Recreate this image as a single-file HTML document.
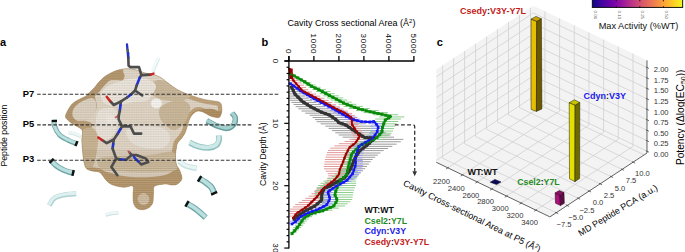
<!DOCTYPE html>
<html><head><meta charset="utf-8"><style>
html,body{margin:0;padding:0;background:#fff;width:685px;height:252px;overflow:hidden}
svg{display:block}
text{font-family:"Liberation Sans", sans-serif}
</style></head><body>
<svg width="685" height="252" viewBox="0 0 685 252">
<rect width="685" height="252" fill="#fff"/>
<g opacity="1.0"><path d="M158.80,58.10 C158.33,59.08 156.98,61.73 156.00,64.00 C155.02,66.27 153.42,70.42 152.90,71.70 " fill="none" stroke="#d8eaea" stroke-width="3.5" stroke-linecap="butt"/>
<path d="M158.80,58.10 C158.33,59.08 156.98,61.73 156.00,64.00 C155.02,66.27 153.42,70.42 152.90,71.70 " fill="none" stroke="#f4fafa" stroke-width="2.17" stroke-linecap="butt" transform="translate(-0.3,-0.5)"/>
</g>
<g opacity="1.0"><path d="M49.20,205.40 C49.83,204.42 51.50,201.00 53.00,199.50 C54.50,198.00 55.87,197.23 58.20,196.40 C60.53,195.57 64.00,194.93 67.00,194.50 C70.00,194.07 74.67,193.92 76.20,193.80 " fill="none" stroke="#add2d2" stroke-width="5" stroke-linecap="butt"/>
<path d="M49.20,205.40 C49.83,204.42 51.50,201.00 53.00,199.50 C54.50,198.00 55.87,197.23 58.20,196.40 C60.53,195.57 64.00,194.93 67.00,194.50 C70.00,194.07 74.67,193.92 76.20,193.80 " fill="none" stroke="#e0f0f0" stroke-width="3.10" stroke-linecap="butt" transform="translate(-0.3,-0.5)"/>
</g>
<g opacity="1.0"><path d="M105.70,215.00 C106.75,214.75 109.87,213.83 112.00,213.50 C114.13,213.17 117.42,213.08 118.50,213.00 " fill="none" stroke="#d0e4e4" stroke-width="3.5" stroke-linecap="butt"/>
<path d="M105.70,215.00 C106.75,214.75 109.87,213.83 112.00,213.50 C114.13,213.17 117.42,213.08 118.50,213.00 " fill="none" stroke="#eef6f6" stroke-width="2.17" stroke-linecap="butt" transform="translate(-0.3,-0.5)"/>
</g>
<g opacity="1.0"><path d="M179.00,161.00 C180.17,161.83 183.03,164.75 186.00,166.00 C188.97,167.25 195.00,168.08 196.80,168.50 " fill="none" stroke="#c6e0df" stroke-width="5.5" stroke-linecap="butt"/>
<path d="M179.00,161.00 C180.17,161.83 183.03,164.75 186.00,166.00 C188.97,167.25 195.00,168.08 196.80,168.50 " fill="none" stroke="#e9f5f4" stroke-width="3.41" stroke-linecap="butt" transform="translate(-0.3,-0.5)"/>
</g>
<g opacity="1.0"><path d="M68.60,132.50 C69.67,132.75 72.93,133.28 75.00,134.00 C77.07,134.72 80.00,136.33 81.00,136.80 " fill="none" stroke="#d6e8e8" stroke-width="3.5" stroke-linecap="butt"/>
<path d="M68.60,132.50 C69.67,132.75 72.93,133.28 75.00,134.00 C77.07,134.72 80.00,136.33 81.00,136.80 " fill="none" stroke="#eef7f7" stroke-width="2.17" stroke-linecap="butt" transform="translate(-0.3,-0.5)"/>
</g>
<path d="M65.50,117.00 C65.23,115.55 66.17,113.83 67.00,112.00 C67.83,110.17 69.25,107.67 70.50,106.00 C71.75,104.33 72.92,103.17 74.50,102.00 C76.08,100.83 78.08,100.00 80.00,99.00 C81.92,98.00 84.33,97.17 86.00,96.00 C87.67,94.83 88.58,93.42 90.00,92.00 C91.42,90.58 93.17,89.00 94.50,87.50 C95.83,86.00 96.58,84.58 98.00,83.00 C99.42,81.42 101.33,79.42 103.00,78.00 C104.67,76.58 106.17,75.58 108.00,74.50 C109.83,73.42 112.00,72.33 114.00,71.50 C116.00,70.67 117.67,69.97 120.00,69.50 C122.33,69.03 125.33,68.65 128.00,68.70 C130.67,68.75 133.33,69.13 136.00,69.80 C138.67,70.47 141.33,71.95 144.00,72.70 C146.67,73.45 149.28,73.55 152.00,74.30 C154.72,75.05 157.63,75.75 160.30,77.20 C162.97,78.65 164.98,80.83 168.00,83.00 C171.02,85.17 174.53,88.12 178.40,90.20 C182.27,92.28 186.93,93.97 191.20,95.50 C195.47,97.03 200.20,98.48 204.00,99.40 C207.80,100.32 211.50,100.57 214.00,101.00 C216.50,101.43 217.78,101.42 219.00,102.00 C220.22,102.58 220.83,103.00 221.30,104.50 C221.77,106.00 222.08,108.88 221.80,111.00 C221.52,113.12 220.90,116.20 219.60,117.20 C218.30,118.20 215.72,117.28 214.00,117.00 C212.28,116.72 210.97,116.25 209.30,115.50 C207.63,114.75 205.80,113.25 204.00,112.50 C202.20,111.75 200.17,110.92 198.50,111.00 C196.83,111.08 195.42,111.83 194.00,113.00 C192.58,114.17 191.08,115.92 190.00,118.00 C188.92,120.08 188.33,123.00 187.50,125.50 C186.67,128.00 186.08,130.75 185.00,133.00 C183.92,135.25 182.23,137.33 181.00,139.00 C179.77,140.67 178.37,141.50 177.60,143.00 C176.83,144.50 176.75,146.00 176.40,148.00 C176.05,150.00 175.50,152.27 175.50,155.00 C175.50,157.73 175.73,161.90 176.40,164.40 C177.07,166.90 178.58,167.63 179.50,170.00 C180.42,172.37 182.23,176.27 181.90,178.60 C181.57,180.93 179.15,182.92 177.50,184.00 C175.85,185.08 174.00,185.10 172.00,185.10 C170.00,185.10 168.40,183.82 165.50,184.00 C162.60,184.18 156.60,184.73 154.60,186.20 C152.60,187.67 153.87,189.88 153.50,192.80 C153.13,195.72 153.65,200.98 152.40,203.70 C151.15,206.42 148.37,208.20 146.00,209.10 C143.63,210.00 140.23,210.00 138.20,209.10 C136.17,208.20 134.67,206.05 133.80,203.70 C132.93,201.35 133.17,197.92 133.00,195.00 C132.83,192.08 134.30,187.48 132.80,186.20 C131.30,184.92 127.28,187.48 124.00,187.30 C120.72,187.12 116.02,186.20 113.10,185.10 C110.18,184.00 108.68,182.80 106.50,180.70 C104.32,178.60 102.42,174.12 100.00,172.50 C97.58,170.88 94.33,171.75 92.00,171.00 C89.67,170.25 87.40,169.83 86.00,168.00 C84.60,166.17 84.18,163.00 83.60,160.00 C83.02,157.00 82.80,153.33 82.50,150.00 C82.20,146.67 81.80,143.17 81.80,140.00 C81.80,136.83 82.97,133.08 82.50,131.00 C82.03,128.92 80.50,128.58 79.00,127.50 C77.50,126.42 75.23,125.63 73.50,124.50 C71.77,123.37 69.93,121.95 68.60,120.70 C67.27,119.45 65.77,118.45 65.50,117.00 Z" fill="#e3d9ca"/>
<defs><clipPath id="surfclip"><path d="M65.50,117.00 C65.23,115.55 66.17,113.83 67.00,112.00 C67.83,110.17 69.25,107.67 70.50,106.00 C71.75,104.33 72.92,103.17 74.50,102.00 C76.08,100.83 78.08,100.00 80.00,99.00 C81.92,98.00 84.33,97.17 86.00,96.00 C87.67,94.83 88.58,93.42 90.00,92.00 C91.42,90.58 93.17,89.00 94.50,87.50 C95.83,86.00 96.58,84.58 98.00,83.00 C99.42,81.42 101.33,79.42 103.00,78.00 C104.67,76.58 106.17,75.58 108.00,74.50 C109.83,73.42 112.00,72.33 114.00,71.50 C116.00,70.67 117.67,69.97 120.00,69.50 C122.33,69.03 125.33,68.65 128.00,68.70 C130.67,68.75 133.33,69.13 136.00,69.80 C138.67,70.47 141.33,71.95 144.00,72.70 C146.67,73.45 149.28,73.55 152.00,74.30 C154.72,75.05 157.63,75.75 160.30,77.20 C162.97,78.65 164.98,80.83 168.00,83.00 C171.02,85.17 174.53,88.12 178.40,90.20 C182.27,92.28 186.93,93.97 191.20,95.50 C195.47,97.03 200.20,98.48 204.00,99.40 C207.80,100.32 211.50,100.57 214.00,101.00 C216.50,101.43 217.78,101.42 219.00,102.00 C220.22,102.58 220.83,103.00 221.30,104.50 C221.77,106.00 222.08,108.88 221.80,111.00 C221.52,113.12 220.90,116.20 219.60,117.20 C218.30,118.20 215.72,117.28 214.00,117.00 C212.28,116.72 210.97,116.25 209.30,115.50 C207.63,114.75 205.80,113.25 204.00,112.50 C202.20,111.75 200.17,110.92 198.50,111.00 C196.83,111.08 195.42,111.83 194.00,113.00 C192.58,114.17 191.08,115.92 190.00,118.00 C188.92,120.08 188.33,123.00 187.50,125.50 C186.67,128.00 186.08,130.75 185.00,133.00 C183.92,135.25 182.23,137.33 181.00,139.00 C179.77,140.67 178.37,141.50 177.60,143.00 C176.83,144.50 176.75,146.00 176.40,148.00 C176.05,150.00 175.50,152.27 175.50,155.00 C175.50,157.73 175.73,161.90 176.40,164.40 C177.07,166.90 178.58,167.63 179.50,170.00 C180.42,172.37 182.23,176.27 181.90,178.60 C181.57,180.93 179.15,182.92 177.50,184.00 C175.85,185.08 174.00,185.10 172.00,185.10 C170.00,185.10 168.40,183.82 165.50,184.00 C162.60,184.18 156.60,184.73 154.60,186.20 C152.60,187.67 153.87,189.88 153.50,192.80 C153.13,195.72 153.65,200.98 152.40,203.70 C151.15,206.42 148.37,208.20 146.00,209.10 C143.63,210.00 140.23,210.00 138.20,209.10 C136.17,208.20 134.67,206.05 133.80,203.70 C132.93,201.35 133.17,197.92 133.00,195.00 C132.83,192.08 134.30,187.48 132.80,186.20 C131.30,184.92 127.28,187.48 124.00,187.30 C120.72,187.12 116.02,186.20 113.10,185.10 C110.18,184.00 108.68,182.80 106.50,180.70 C104.32,178.60 102.42,174.12 100.00,172.50 C97.58,170.88 94.33,171.75 92.00,171.00 C89.67,170.25 87.40,169.83 86.00,168.00 C84.60,166.17 84.18,163.00 83.60,160.00 C83.02,157.00 82.80,153.33 82.50,150.00 C82.20,146.67 81.80,143.17 81.80,140.00 C81.80,136.83 82.97,133.08 82.50,131.00 C82.03,128.92 80.50,128.58 79.00,127.50 C77.50,126.42 75.23,125.63 73.50,124.50 C71.77,123.37 69.93,121.95 68.60,120.70 C67.27,119.45 65.77,118.45 65.50,117.00 Z"/></clipPath></defs>
<g clip-path="url(#surfclip)">
<path d="M65.50,117.00 C65.23,115.55 66.17,113.83 67.00,112.00 C67.83,110.17 69.25,107.67 70.50,106.00 C71.75,104.33 72.92,103.17 74.50,102.00 C76.08,100.83 78.08,100.00 80.00,99.00 C81.92,98.00 84.33,97.17 86.00,96.00 C87.67,94.83 88.58,93.42 90.00,92.00 C91.42,90.58 93.17,89.00 94.50,87.50 C95.83,86.00 96.58,84.58 98.00,83.00 C99.42,81.42 101.33,79.42 103.00,78.00 C104.67,76.58 106.17,75.58 108.00,74.50 C109.83,73.42 112.00,72.33 114.00,71.50 C116.00,70.67 117.67,69.97 120.00,69.50 C122.33,69.03 125.33,68.65 128.00,68.70 C130.67,68.75 133.33,69.13 136.00,69.80 C138.67,70.47 141.33,71.95 144.00,72.70 C146.67,73.45 149.28,73.55 152.00,74.30 C154.72,75.05 157.63,75.75 160.30,77.20 C162.97,78.65 164.98,80.83 168.00,83.00 C171.02,85.17 174.53,88.12 178.40,90.20 C182.27,92.28 186.93,93.97 191.20,95.50 C195.47,97.03 200.20,98.48 204.00,99.40 C207.80,100.32 211.50,100.57 214.00,101.00 C216.50,101.43 217.78,101.42 219.00,102.00 C220.22,102.58 220.83,103.00 221.30,104.50 C221.77,106.00 222.08,108.88 221.80,111.00 C221.52,113.12 220.90,116.20 219.60,117.20 C218.30,118.20 215.72,117.28 214.00,117.00 C212.28,116.72 210.97,116.25 209.30,115.50 C207.63,114.75 205.80,113.25 204.00,112.50 C202.20,111.75 200.17,110.92 198.50,111.00 C196.83,111.08 195.42,111.83 194.00,113.00 C192.58,114.17 191.08,115.92 190.00,118.00 C188.92,120.08 188.33,123.00 187.50,125.50 C186.67,128.00 186.08,130.75 185.00,133.00 C183.92,135.25 182.23,137.33 181.00,139.00 C179.77,140.67 178.37,141.50 177.60,143.00 C176.83,144.50 176.75,146.00 176.40,148.00 C176.05,150.00 175.50,152.27 175.50,155.00 C175.50,157.73 175.73,161.90 176.40,164.40 C177.07,166.90 178.58,167.63 179.50,170.00 C180.42,172.37 182.23,176.27 181.90,178.60 C181.57,180.93 179.15,182.92 177.50,184.00 C175.85,185.08 174.00,185.10 172.00,185.10 C170.00,185.10 168.40,183.82 165.50,184.00 C162.60,184.18 156.60,184.73 154.60,186.20 C152.60,187.67 153.87,189.88 153.50,192.80 C153.13,195.72 153.65,200.98 152.40,203.70 C151.15,206.42 148.37,208.20 146.00,209.10 C143.63,210.00 140.23,210.00 138.20,209.10 C136.17,208.20 134.67,206.05 133.80,203.70 C132.93,201.35 133.17,197.92 133.00,195.00 C132.83,192.08 134.30,187.48 132.80,186.20 C131.30,184.92 127.28,187.48 124.00,187.30 C120.72,187.12 116.02,186.20 113.10,185.10 C110.18,184.00 108.68,182.80 106.50,180.70 C104.32,178.60 102.42,174.12 100.00,172.50 C97.58,170.88 94.33,171.75 92.00,171.00 C89.67,170.25 87.40,169.83 86.00,168.00 C84.60,166.17 84.18,163.00 83.60,160.00 C83.02,157.00 82.80,153.33 82.50,150.00 C82.20,146.67 81.80,143.17 81.80,140.00 C81.80,136.83 82.97,133.08 82.50,131.00 C82.03,128.92 80.50,128.58 79.00,127.50 C77.50,126.42 75.23,125.63 73.50,124.50 C71.77,123.37 69.93,121.95 68.60,120.70 C67.27,119.45 65.77,118.45 65.50,117.00 Z" fill="none" stroke="#c2a67f" stroke-width="8"/>
<path d="M65.50,117.00 C65.23,115.55 66.17,113.83 67.00,112.00 C67.83,110.17 69.25,107.67 70.50,106.00 C71.75,104.33 72.92,103.17 74.50,102.00 C76.08,100.83 78.08,100.00 80.00,99.00 C81.92,98.00 84.33,97.17 86.00,96.00 C87.67,94.83 88.58,93.42 90.00,92.00 C91.42,90.58 93.17,89.00 94.50,87.50 C95.83,86.00 96.58,84.58 98.00,83.00 C99.42,81.42 101.33,79.42 103.00,78.00 C104.67,76.58 106.17,75.58 108.00,74.50 C109.83,73.42 112.00,72.25 114.00,71.50 C116.00,70.75 118.25,69.83 120.00,70.00 C121.75,70.17 124.00,70.83 124.50,72.50 C125.00,74.17 124.25,78.75 123.00,80.00 C121.75,81.25 119.17,79.92 117.00,80.00 C114.83,80.08 112.17,79.50 110.00,80.50 C107.83,81.50 105.83,84.08 104.00,86.00 C102.17,87.92 100.50,90.33 99.00,92.00 C97.50,93.67 95.50,94.50 95.00,96.00 C94.50,97.50 95.67,99.33 96.00,101.00 C96.33,102.67 97.17,104.17 97.00,106.00 C96.83,107.83 96.17,110.33 95.00,112.00 C93.83,113.67 91.83,114.92 90.00,116.00 C88.17,117.08 85.17,116.83 84.00,118.50 C82.83,120.17 83.83,124.50 83.00,126.00 C82.17,127.50 80.58,127.75 79.00,127.50 C77.42,127.25 75.23,125.63 73.50,124.50 C71.77,123.37 69.93,121.95 68.60,120.70 C67.27,119.45 65.77,118.45 65.50,117.00 Z" fill="#b69a72"/>
<path d="M73.00,110.00 C73.83,107.83 76.00,105.67 78.00,104.00 C80.00,102.33 82.67,101.00 85.00,100.00 C87.33,99.00 90.17,97.67 92.00,98.00 C93.83,98.33 95.33,100.00 96.00,102.00 C96.67,104.00 96.67,107.50 96.00,110.00 C95.33,112.50 93.83,115.17 92.00,117.00 C90.17,118.83 87.33,120.33 85.00,121.00 C82.67,121.67 80.00,121.67 78.00,121.00 C76.00,120.33 73.83,118.83 73.00,117.00 C72.17,115.17 72.17,112.17 73.00,110.00 Z" fill="#e0d6c6"/>
<path d="M72.00,124.00 C72.00,122.67 75.67,121.50 78.00,121.00 C80.33,120.50 83.67,120.50 86.00,121.00 C88.33,121.50 91.33,122.33 92.00,124.00 C92.67,125.67 91.33,129.33 90.00,131.00 C88.67,132.67 86.00,134.33 84.00,134.00 C82.00,133.67 80.00,130.67 78.00,129.00 C76.00,127.33 72.00,125.33 72.00,124.00 Z" fill="#bda27c"/>
<path d="M188.50,121.50 C189.08,119.75 189.92,116.72 191.00,115.00 C192.08,113.28 193.17,112.12 195.00,111.20 C196.83,110.28 199.62,109.92 202.00,109.50 C204.38,109.08 207.13,108.70 209.30,108.70 C211.47,108.70 213.47,109.08 215.00,109.50 C216.53,109.92 217.37,110.95 218.50,111.20 C219.63,111.45 221.62,110.00 221.80,111.00 C221.98,112.00 220.90,116.20 219.60,117.20 C218.30,118.20 215.72,117.28 214.00,117.00 C212.28,116.72 210.97,116.25 209.30,115.50 C207.63,114.75 205.80,113.25 204.00,112.50 C202.20,111.75 200.17,110.92 198.50,111.00 C196.83,111.08 195.42,111.83 194.00,113.00 C192.58,114.17 191.08,115.92 190.00,118.00 C188.92,120.08 187.75,124.92 187.50,125.50 C187.25,126.08 187.92,123.25 188.50,121.50 Z" fill="#b09064"/>
<path d="M176.00,140.00 C177.33,137.33 180.17,134.67 182.00,132.00 C183.83,129.33 186.00,123.50 187.00,124.00 C188.00,124.50 188.83,132.00 188.00,135.00 C187.17,138.00 183.67,139.50 182.00,142.00 C180.33,144.50 178.67,146.17 178.00,150.00 C177.33,153.83 177.33,160.83 178.00,165.00 C178.67,169.17 182.00,172.17 182.00,175.00 C182.00,177.83 179.67,181.50 178.00,182.00 C176.33,182.50 172.83,181.67 172.00,178.00 C171.17,174.33 172.67,165.00 173.00,160.00 C173.33,155.00 173.50,151.33 174.00,148.00 C174.50,144.67 174.67,142.67 176.00,140.00 Z" fill="#c0a47c"/>
<path d="M160.00,108.00 C161.67,105.33 166.33,103.33 170.00,102.00 C173.67,100.67 178.67,99.33 182.00,100.00 C185.33,100.67 189.00,103.33 190.00,106.00 C191.00,108.67 189.33,112.67 188.00,116.00 C186.67,119.33 184.33,123.67 182.00,126.00 C179.67,128.33 176.67,130.00 174.00,130.00 C171.33,130.00 168.33,128.00 166.00,126.00 C163.67,124.00 161.00,121.00 160.00,118.00 C159.00,115.00 158.33,110.67 160.00,108.00 Z" fill="#cdbb9e"/>
<path d="M82.00,131.00 C83.67,128.17 89.33,127.17 92.00,128.00 C94.67,128.83 97.17,132.33 98.00,136.00 C98.83,139.67 97.67,145.33 97.00,150.00 C96.33,154.67 95.50,160.67 94.00,164.00 C92.50,167.33 89.67,170.67 88.00,170.00 C86.33,169.33 85.00,164.17 84.00,160.00 C83.00,155.83 82.33,149.83 82.00,145.00 C81.67,140.17 80.33,133.83 82.00,131.00 Z" fill="#cbb898"/>
<path d="M100.00,158.00 C103.67,156.50 111.67,156.50 120.00,156.00 C128.33,155.50 141.33,155.67 150.00,155.00 C158.67,154.33 167.67,151.17 172.00,152.00 C176.33,152.83 175.33,157.00 176.00,160.00 C176.67,163.00 178.67,168.00 176.00,170.00 C173.33,172.00 167.67,171.67 160.00,172.00 C152.33,172.33 139.17,172.33 130.00,172.00 C120.83,171.67 110.33,171.17 105.00,170.00 C99.67,168.83 98.83,167.00 98.00,165.00 C97.17,163.00 96.33,159.50 100.00,158.00 Z" fill="#d2c2a6"/>
<path d="M86.00,168.00 C86.00,167.50 89.00,167.50 92.00,168.00 C95.00,168.50 99.67,169.83 104.00,171.00 C108.33,172.17 113.33,174.00 118.00,175.00 C122.67,176.00 126.67,176.67 132.00,177.00 C137.33,177.33 144.50,177.33 150.00,177.00 C155.50,176.67 160.60,176.17 165.00,175.00 C169.40,173.83 173.98,170.50 176.40,170.00 C178.82,169.50 178.58,170.57 179.50,172.00 C180.42,173.43 182.23,176.60 181.90,178.60 C181.57,180.60 179.15,182.92 177.50,184.00 C175.85,185.08 174.00,185.10 172.00,185.10 C170.00,185.10 168.40,183.82 165.50,184.00 C162.60,184.18 156.60,184.73 154.60,186.20 C152.60,187.67 153.87,189.88 153.50,192.80 C153.13,195.72 153.65,200.98 152.40,203.70 C151.15,206.42 148.37,208.20 146.00,209.10 C143.63,210.00 140.23,210.00 138.20,209.10 C136.17,208.20 134.67,206.05 133.80,203.70 C132.93,201.35 133.17,197.92 133.00,195.00 C132.83,192.08 134.30,187.48 132.80,186.20 C131.30,184.92 127.28,187.48 124.00,187.30 C120.72,187.12 116.02,186.20 113.10,185.10 C110.18,184.00 108.68,182.80 106.50,180.70 C104.32,178.60 102.42,174.12 100.00,172.50 C97.58,170.88 94.33,171.75 92.00,171.00 C89.67,170.25 86.00,168.50 86.00,168.00 Z" fill="#bb9e74"/>
<path d="M138.50,196.00 C139.50,194.67 142.25,192.83 144.00,193.00 C145.75,193.17 148.33,195.33 149.00,197.00 C149.67,198.67 149.08,201.67 148.00,203.00 C146.92,204.33 144.17,205.33 142.50,205.00 C140.83,204.67 138.67,202.50 138.00,201.00 C137.33,199.50 137.50,197.33 138.50,196.00 Z" fill="#d8c9b0"/>
<path d="M124.00,69.00 C125.83,67.83 131.67,67.58 136.00,68.00 C140.33,68.42 146.00,70.33 150.00,71.50 C154.00,72.67 157.33,73.58 160.00,75.00 C162.67,76.42 166.33,79.00 166.00,80.00 C165.67,81.00 161.00,81.17 158.00,81.00 C155.00,80.83 152.00,79.67 148.00,79.00 C144.00,78.33 137.83,77.67 134.00,77.00 C130.17,76.33 126.67,76.33 125.00,75.00 C123.33,73.67 122.17,70.17 124.00,69.00 Z" fill="#e4dbce"/>
<path d="M150.00,84.00 C151.33,81.67 156.67,80.00 160.00,80.00 C163.33,80.00 166.33,82.33 170.00,84.00 C173.67,85.67 178.67,88.00 182.00,90.00 C185.33,92.00 189.67,94.33 190.00,96.00 C190.33,97.67 187.00,99.17 184.00,100.00 C181.00,100.83 176.00,101.17 172.00,101.00 C168.00,100.83 163.33,100.17 160.00,99.00 C156.67,97.83 153.67,96.50 152.00,94.00 C150.33,91.50 148.67,86.33 150.00,84.00 Z" fill="#cdbca0"/>
<path d="M101.00,93.00 C101.83,90.33 105.17,87.83 108.00,86.00 C110.83,84.17 114.67,83.17 118.00,82.00 C121.33,80.83 124.33,79.67 128.00,79.00 C131.67,78.33 136.33,77.83 140.00,78.00 C143.67,78.17 147.33,78.67 150.00,80.00 C152.67,81.33 155.67,83.50 156.00,86.00 C156.33,88.50 153.67,92.50 152.00,95.00 C150.33,97.50 149.00,99.83 146.00,101.00 C143.00,102.17 137.67,101.50 134.00,102.00 C130.33,102.50 127.67,103.33 124.00,104.00 C120.33,104.67 115.50,106.33 112.00,106.00 C108.50,105.67 104.83,104.17 103.00,102.00 C101.17,99.83 100.17,95.67 101.00,93.00 Z" fill="#efeae2"/>
<path d="M98.00,112.00 C99.67,109.33 103.00,108.33 106.00,108.00 C109.00,107.67 114.00,107.67 116.00,110.00 C118.00,112.33 118.33,118.00 118.00,122.00 C117.67,126.00 116.00,131.00 114.00,134.00 C112.00,137.00 108.67,139.67 106.00,140.00 C103.33,140.33 99.67,138.67 98.00,136.00 C96.33,133.33 96.00,128.00 96.00,124.00 C96.00,120.00 96.33,114.67 98.00,112.00 Z" fill="#ede8e0"/>
<path d="M126.00,131.00 C127.00,128.17 133.67,126.83 138.00,126.00 C142.33,125.17 147.33,125.33 152.00,126.00 C156.67,126.67 163.00,127.67 166.00,130.00 C169.00,132.33 170.67,137.00 170.00,140.00 C169.33,143.00 166.00,146.67 162.00,148.00 C158.00,149.33 151.00,148.83 146.00,148.00 C141.00,147.17 135.33,145.83 132.00,143.00 C128.67,140.17 125.00,133.83 126.00,131.00 Z" fill="#ece7df"/>
</g>
<ellipse cx="156.4" cy="103.5" rx="5.5" ry="5" fill="#fbfaf8"/>
<ellipse cx="109" cy="117" rx="4" ry="3" fill="#f1ece4"/>
<ellipse cx="111.5" cy="121" rx="5" ry="4" fill="#f3efe9"/>
<path d="M65.50,117.00 C65.23,115.55 66.17,113.83 67.00,112.00 C67.83,110.17 69.25,107.67 70.50,106.00 C71.75,104.33 72.92,103.17 74.50,102.00 C76.08,100.83 78.08,100.00 80.00,99.00 C81.92,98.00 84.33,97.17 86.00,96.00 C87.67,94.83 88.58,93.42 90.00,92.00 C91.42,90.58 93.17,89.00 94.50,87.50 C95.83,86.00 96.58,84.58 98.00,83.00 C99.42,81.42 101.33,79.42 103.00,78.00 C104.67,76.58 106.17,75.58 108.00,74.50 C109.83,73.42 112.00,72.33 114.00,71.50 C116.00,70.67 117.67,69.97 120.00,69.50 C122.33,69.03 125.33,68.65 128.00,68.70 C130.67,68.75 133.33,69.13 136.00,69.80 C138.67,70.47 141.33,71.95 144.00,72.70 C146.67,73.45 149.28,73.55 152.00,74.30 C154.72,75.05 157.63,75.75 160.30,77.20 C162.97,78.65 164.98,80.83 168.00,83.00 C171.02,85.17 174.53,88.12 178.40,90.20 C182.27,92.28 186.93,93.97 191.20,95.50 C195.47,97.03 200.20,98.48 204.00,99.40 C207.80,100.32 211.50,100.57 214.00,101.00 C216.50,101.43 217.78,101.42 219.00,102.00 C220.22,102.58 220.83,103.00 221.30,104.50 C221.77,106.00 222.08,108.88 221.80,111.00 C221.52,113.12 220.90,116.20 219.60,117.20 C218.30,118.20 215.72,117.28 214.00,117.00 C212.28,116.72 210.97,116.25 209.30,115.50 C207.63,114.75 205.80,113.25 204.00,112.50 C202.20,111.75 200.17,110.92 198.50,111.00 C196.83,111.08 195.42,111.83 194.00,113.00 C192.58,114.17 191.08,115.92 190.00,118.00 C188.92,120.08 188.33,123.00 187.50,125.50 C186.67,128.00 186.08,130.75 185.00,133.00 C183.92,135.25 182.23,137.33 181.00,139.00 C179.77,140.67 178.37,141.50 177.60,143.00 C176.83,144.50 176.75,146.00 176.40,148.00 C176.05,150.00 175.50,152.27 175.50,155.00 C175.50,157.73 175.73,161.90 176.40,164.40 C177.07,166.90 178.58,167.63 179.50,170.00 C180.42,172.37 182.23,176.27 181.90,178.60 C181.57,180.93 179.15,182.92 177.50,184.00 C175.85,185.08 174.00,185.10 172.00,185.10 C170.00,185.10 168.40,183.82 165.50,184.00 C162.60,184.18 156.60,184.73 154.60,186.20 C152.60,187.67 153.87,189.88 153.50,192.80 C153.13,195.72 153.65,200.98 152.40,203.70 C151.15,206.42 148.37,208.20 146.00,209.10 C143.63,210.00 140.23,210.00 138.20,209.10 C136.17,208.20 134.67,206.05 133.80,203.70 C132.93,201.35 133.17,197.92 133.00,195.00 C132.83,192.08 134.30,187.48 132.80,186.20 C131.30,184.92 127.28,187.48 124.00,187.30 C120.72,187.12 116.02,186.20 113.10,185.10 C110.18,184.00 108.68,182.80 106.50,180.70 C104.32,178.60 102.42,174.12 100.00,172.50 C97.58,170.88 94.33,171.75 92.00,171.00 C89.67,170.25 87.40,169.83 86.00,168.00 C84.60,166.17 84.18,163.00 83.60,160.00 C83.02,157.00 82.80,153.33 82.50,150.00 C82.20,146.67 81.80,143.17 81.80,140.00 C81.80,136.83 82.97,133.08 82.50,131.00 C82.03,128.92 80.50,128.58 79.00,127.50 C77.50,126.42 75.23,125.63 73.50,124.50 C71.77,123.37 69.93,121.95 68.60,120.70 C67.27,119.45 65.77,118.45 65.50,117.00 Z" fill="none" stroke="#a88b62" stroke-width="1.0" opacity="0.5"/>
<defs><pattern id="mesh" width="1.7" height="1.7" patternUnits="userSpaceOnUse"><rect width="1.7" height="0.6" fill="#6a5030" opacity="0.18"/><rect width="0.6" height="1.7" fill="#6a5030" opacity="0.07"/></pattern></defs>
<path d="M65.50,117.00 C65.23,115.55 66.17,113.83 67.00,112.00 C67.83,110.17 69.25,107.67 70.50,106.00 C71.75,104.33 72.92,103.17 74.50,102.00 C76.08,100.83 78.08,100.00 80.00,99.00 C81.92,98.00 84.33,97.17 86.00,96.00 C87.67,94.83 88.58,93.42 90.00,92.00 C91.42,90.58 93.17,89.00 94.50,87.50 C95.83,86.00 96.58,84.58 98.00,83.00 C99.42,81.42 101.33,79.42 103.00,78.00 C104.67,76.58 106.17,75.58 108.00,74.50 C109.83,73.42 112.00,72.33 114.00,71.50 C116.00,70.67 117.67,69.97 120.00,69.50 C122.33,69.03 125.33,68.65 128.00,68.70 C130.67,68.75 133.33,69.13 136.00,69.80 C138.67,70.47 141.33,71.95 144.00,72.70 C146.67,73.45 149.28,73.55 152.00,74.30 C154.72,75.05 157.63,75.75 160.30,77.20 C162.97,78.65 164.98,80.83 168.00,83.00 C171.02,85.17 174.53,88.12 178.40,90.20 C182.27,92.28 186.93,93.97 191.20,95.50 C195.47,97.03 200.20,98.48 204.00,99.40 C207.80,100.32 211.50,100.57 214.00,101.00 C216.50,101.43 217.78,101.42 219.00,102.00 C220.22,102.58 220.83,103.00 221.30,104.50 C221.77,106.00 222.08,108.88 221.80,111.00 C221.52,113.12 220.90,116.20 219.60,117.20 C218.30,118.20 215.72,117.28 214.00,117.00 C212.28,116.72 210.97,116.25 209.30,115.50 C207.63,114.75 205.80,113.25 204.00,112.50 C202.20,111.75 200.17,110.92 198.50,111.00 C196.83,111.08 195.42,111.83 194.00,113.00 C192.58,114.17 191.08,115.92 190.00,118.00 C188.92,120.08 188.33,123.00 187.50,125.50 C186.67,128.00 186.08,130.75 185.00,133.00 C183.92,135.25 182.23,137.33 181.00,139.00 C179.77,140.67 178.37,141.50 177.60,143.00 C176.83,144.50 176.75,146.00 176.40,148.00 C176.05,150.00 175.50,152.27 175.50,155.00 C175.50,157.73 175.73,161.90 176.40,164.40 C177.07,166.90 178.58,167.63 179.50,170.00 C180.42,172.37 182.23,176.27 181.90,178.60 C181.57,180.93 179.15,182.92 177.50,184.00 C175.85,185.08 174.00,185.10 172.00,185.10 C170.00,185.10 168.40,183.82 165.50,184.00 C162.60,184.18 156.60,184.73 154.60,186.20 C152.60,187.67 153.87,189.88 153.50,192.80 C153.13,195.72 153.65,200.98 152.40,203.70 C151.15,206.42 148.37,208.20 146.00,209.10 C143.63,210.00 140.23,210.00 138.20,209.10 C136.17,208.20 134.67,206.05 133.80,203.70 C132.93,201.35 133.17,197.92 133.00,195.00 C132.83,192.08 134.30,187.48 132.80,186.20 C131.30,184.92 127.28,187.48 124.00,187.30 C120.72,187.12 116.02,186.20 113.10,185.10 C110.18,184.00 108.68,182.80 106.50,180.70 C104.32,178.60 102.42,174.12 100.00,172.50 C97.58,170.88 94.33,171.75 92.00,171.00 C89.67,170.25 87.40,169.83 86.00,168.00 C84.60,166.17 84.18,163.00 83.60,160.00 C83.02,157.00 82.80,153.33 82.50,150.00 C82.20,146.67 81.80,143.17 81.80,140.00 C81.80,136.83 82.97,133.08 82.50,131.00 C82.03,128.92 80.50,128.58 79.00,127.50 C77.50,126.42 75.23,125.63 73.50,124.50 C71.77,123.37 69.93,121.95 68.60,120.70 C67.27,119.45 65.77,118.45 65.50,117.00 Z" fill="url(#mesh)"/>
<defs><pattern id="mesh2" width="2" height="2" patternUnits="userSpaceOnUse"><rect width="2" height="0.7" fill="#7a5a30" opacity="0.22"/></pattern><clipPath id="lowclip"><path d="M65.50,117.00 C65.23,115.55 66.17,113.83 67.00,112.00 C67.83,110.17 69.25,107.67 70.50,106.00 C71.75,104.33 72.92,103.17 74.50,102.00 C76.08,100.83 78.08,100.00 80.00,99.00 C81.92,98.00 84.33,97.17 86.00,96.00 C87.67,94.83 88.58,93.42 90.00,92.00 C91.42,90.58 93.17,89.00 94.50,87.50 C95.83,86.00 96.58,84.58 98.00,83.00 C99.42,81.42 101.33,79.42 103.00,78.00 C104.67,76.58 106.17,75.58 108.00,74.50 C109.83,73.42 112.00,72.33 114.00,71.50 C116.00,70.67 117.67,69.97 120.00,69.50 C122.33,69.03 125.33,68.65 128.00,68.70 C130.67,68.75 133.33,69.13 136.00,69.80 C138.67,70.47 141.33,71.95 144.00,72.70 C146.67,73.45 149.28,73.55 152.00,74.30 C154.72,75.05 157.63,75.75 160.30,77.20 C162.97,78.65 164.98,80.83 168.00,83.00 C171.02,85.17 174.53,88.12 178.40,90.20 C182.27,92.28 186.93,93.97 191.20,95.50 C195.47,97.03 200.20,98.48 204.00,99.40 C207.80,100.32 211.50,100.57 214.00,101.00 C216.50,101.43 217.78,101.42 219.00,102.00 C220.22,102.58 220.83,103.00 221.30,104.50 C221.77,106.00 222.08,108.88 221.80,111.00 C221.52,113.12 220.90,116.20 219.60,117.20 C218.30,118.20 215.72,117.28 214.00,117.00 C212.28,116.72 210.97,116.25 209.30,115.50 C207.63,114.75 205.80,113.25 204.00,112.50 C202.20,111.75 200.17,110.92 198.50,111.00 C196.83,111.08 195.42,111.83 194.00,113.00 C192.58,114.17 191.08,115.92 190.00,118.00 C188.92,120.08 188.33,123.00 187.50,125.50 C186.67,128.00 186.08,130.75 185.00,133.00 C183.92,135.25 182.23,137.33 181.00,139.00 C179.77,140.67 178.37,141.50 177.60,143.00 C176.83,144.50 176.75,146.00 176.40,148.00 C176.05,150.00 175.50,152.27 175.50,155.00 C175.50,157.73 175.73,161.90 176.40,164.40 C177.07,166.90 178.58,167.63 179.50,170.00 C180.42,172.37 182.23,176.27 181.90,178.60 C181.57,180.93 179.15,182.92 177.50,184.00 C175.85,185.08 174.00,185.10 172.00,185.10 C170.00,185.10 168.40,183.82 165.50,184.00 C162.60,184.18 156.60,184.73 154.60,186.20 C152.60,187.67 153.87,189.88 153.50,192.80 C153.13,195.72 153.65,200.98 152.40,203.70 C151.15,206.42 148.37,208.20 146.00,209.10 C143.63,210.00 140.23,210.00 138.20,209.10 C136.17,208.20 134.67,206.05 133.80,203.70 C132.93,201.35 133.17,197.92 133.00,195.00 C132.83,192.08 134.30,187.48 132.80,186.20 C131.30,184.92 127.28,187.48 124.00,187.30 C120.72,187.12 116.02,186.20 113.10,185.10 C110.18,184.00 108.68,182.80 106.50,180.70 C104.32,178.60 102.42,174.12 100.00,172.50 C97.58,170.88 94.33,171.75 92.00,171.00 C89.67,170.25 87.40,169.83 86.00,168.00 C84.60,166.17 84.18,163.00 83.60,160.00 C83.02,157.00 82.80,153.33 82.50,150.00 C82.20,146.67 81.80,143.17 81.80,140.00 C81.80,136.83 82.97,133.08 82.50,131.00 C82.03,128.92 80.50,128.58 79.00,127.50 C77.50,126.42 75.23,125.63 73.50,124.50 C71.77,123.37 69.93,121.95 68.60,120.70 C67.27,119.45 65.77,118.45 65.50,117.00 Z"/></clipPath></defs>
<rect x="80" y="150" width="105" height="63" fill="url(#mesh2)" clip-path="url(#lowclip)"/>
<g opacity="1.0"><path d="M54.30,119.80 C54.33,120.83 53.62,123.47 54.50,126.00 C55.38,128.53 57.25,132.60 59.60,135.00 C61.95,137.40 65.62,138.90 68.60,140.40 C71.58,141.90 76.02,143.40 77.50,144.00 " fill="none" stroke="#6ea6a6" stroke-width="5.0" stroke-linecap="butt"/>
<path d="M54.30,119.80 C54.33,120.83 53.62,123.47 54.50,126.00 C55.38,128.53 57.25,132.60 59.60,135.00 C61.95,137.40 65.62,138.90 68.60,140.40 C71.58,141.90 76.02,143.40 77.50,144.00 " fill="none" stroke="#b9e0de" stroke-width="3.10" stroke-linecap="butt" transform="translate(-0.3,-0.5)"/>
<line x1="54.38" y1="122.20" x2="54.30" y2="119.80" stroke="#111" stroke-width="5.3" stroke-linecap="butt"/>
<line x1="75.28" y1="143.10" x2="77.50" y2="144.00" stroke="#111" stroke-width="5.3" stroke-linecap="butt"/>
</g>
<g opacity="1.0"><path d="M50.80,160.00 C51.67,160.92 53.97,163.87 56.00,165.50 C58.03,167.13 60.83,168.72 63.00,169.80 C65.17,170.88 67.13,171.43 69.00,172.00 C70.87,172.57 73.33,173.00 74.20,173.20 " fill="none" stroke="#6ea6a6" stroke-width="5.5" stroke-linecap="butt"/>
<path d="M50.80,160.00 C51.67,160.92 53.97,163.87 56.00,165.50 C58.03,167.13 60.83,168.72 63.00,169.80 C65.17,170.88 67.13,171.43 69.00,172.00 C70.87,172.57 73.33,173.00 74.20,173.20 " fill="none" stroke="#b9e0de" stroke-width="3.41" stroke-linecap="butt" transform="translate(-0.3,-0.5)"/>
<line x1="52.45" y1="161.74" x2="50.80" y2="160.00" stroke="#111" stroke-width="5.8" stroke-linecap="butt"/>
<line x1="71.86" y1="172.66" x2="74.20" y2="173.20" stroke="#111" stroke-width="5.8" stroke-linecap="butt"/>
</g>
<g opacity="1.0"><path d="M189.60,142.50 C191.02,143.15 194.87,145.52 198.10,146.40 C201.33,147.28 205.90,148.03 209.00,147.80 C212.10,147.57 215.00,146.42 216.70,145.00 C218.40,143.58 218.88,140.90 219.20,139.30 C219.52,137.70 218.70,136.05 218.60,135.40 " fill="none" stroke="#92c2c0" stroke-width="5.8" stroke-linecap="butt"/>
<path d="M189.60,142.50 C191.02,143.15 194.87,145.52 198.10,146.40 C201.33,147.28 205.90,148.03 209.00,147.80 C212.10,147.57 215.00,146.42 216.70,145.00 C218.40,143.58 218.88,140.90 219.20,139.30 C219.52,137.70 218.70,136.05 218.60,135.40 " fill="none" stroke="#cde9e7" stroke-width="3.60" stroke-linecap="butt" transform="translate(-0.3,-0.5)"/>
</g>
<g opacity="1.0"><path d="M198.60,178.20 C199.67,178.83 202.85,180.45 205.00,182.00 C207.15,183.55 209.90,185.45 211.50,187.50 C213.10,189.55 214.08,193.17 214.60,194.30 " fill="none" stroke="#6ea6a6" stroke-width="6.2" stroke-linecap="butt"/>
<path d="M198.60,178.20 C199.67,178.83 202.85,180.45 205.00,182.00 C207.15,183.55 209.90,185.45 211.50,187.50 C213.10,189.55 214.08,193.17 214.60,194.30 " fill="none" stroke="#b9e0de" stroke-width="3.84" stroke-linecap="butt" transform="translate(-0.3,-0.5)"/>
<line x1="200.66" y1="179.43" x2="198.60" y2="178.20" stroke="#111" stroke-width="6.5" stroke-linecap="butt"/>
<line x1="213.60" y1="192.12" x2="214.60" y2="194.30" stroke="#111" stroke-width="6.5" stroke-linecap="butt"/>
</g>
<g opacity="1.0"><path d="M186.00,203.20 C187.50,204.08 191.72,206.12 195.00,208.50 C198.28,210.88 203.92,216.00 205.70,217.50 " fill="none" stroke="#6ea6a6" stroke-width="6.0" stroke-linecap="butt"/>
<path d="M186.00,203.20 C187.50,204.08 191.72,206.12 195.00,208.50 C198.28,210.88 203.92,216.00 205.70,217.50 " fill="none" stroke="#b9e0de" stroke-width="3.72" stroke-linecap="butt" transform="translate(-0.3,-0.5)"/>
<line x1="188.07" y1="204.42" x2="186.00" y2="203.20" stroke="#111" stroke-width="6.3" stroke-linecap="butt"/>
</g>
<g opacity="1.0"><path d="M206.80,120.70 C208.63,121.62 214.33,124.92 217.80,126.20 C221.27,127.48 224.88,128.77 227.60,128.40 C230.32,128.03 232.83,125.82 234.10,124.00 C235.37,122.18 235.55,119.32 235.20,117.50 C234.85,115.68 232.53,113.83 232.00,113.10 " fill="none" stroke="#679e9e" stroke-width="5.5" stroke-linecap="butt"/>
<path d="M206.80,120.70 C208.63,121.62 214.33,124.92 217.80,126.20 C221.27,127.48 224.88,128.77 227.60,128.40 C230.32,128.03 232.83,125.82 234.10,124.00 C235.37,122.18 235.55,119.32 235.20,117.50 C234.85,115.68 232.53,113.83 232.00,113.10 " fill="none" stroke="#a6d0ce" stroke-width="3.41" stroke-linecap="butt" transform="translate(-0.3,-0.5)"/>
</g>
<polyline points="127.00,44.50 127.50,50.00" fill="none" stroke="#2233cc" stroke-width="2.3" stroke-linejoin="round" stroke-linecap="round"/>
<polyline points="127.50,50.00 128.00,53.00" fill="none" stroke="#5c5c5c" stroke-width="2.6" stroke-linejoin="round" stroke-linecap="round"/>
<polyline points="128.00,53.00 128.30,58.00" fill="none" stroke="#2233cc" stroke-width="2.6" stroke-linejoin="round" stroke-linecap="round"/>
<polyline points="128.30,58.00 128.60,65.70 130.50,67.10 139.00,67.10 141.40,75.10 150.50,74.60" fill="none" stroke="#4d4d4d" stroke-width="2.6" stroke-linejoin="round" stroke-linecap="round"/>
<polyline points="150.50,74.60 153.50,73.60" fill="none" stroke="#cc2222" stroke-width="2.4" stroke-linejoin="round" stroke-linecap="round"/>
<polyline points="141.40,75.10 139.80,77.50" fill="none" stroke="#4d4d4d" stroke-width="2.6" stroke-linejoin="round" stroke-linecap="round"/>
<polyline points="139.80,77.50 136.70,85.40" fill="none" stroke="#2233cc" stroke-width="2.6" stroke-linejoin="round" stroke-linecap="round"/>
<polyline points="136.70,85.40 135.10,90.50 142.20,95.50" fill="none" stroke="#4d4d4d" stroke-width="2.6" stroke-linejoin="round" stroke-linecap="round"/>
<polyline points="135.10,90.50 131.00,94.50" fill="none" stroke="#4d4d4d" stroke-width="2.6" stroke-linejoin="round" stroke-linecap="round"/>
<polyline points="131.00,94.50 127.00,97.50" fill="none" stroke="#2233cc" stroke-width="2.6" stroke-linejoin="round" stroke-linecap="round"/>
<polyline points="127.00,97.50 121.00,101.40 113.80,105.00 110.00,101.00" fill="none" stroke="#4d4d4d" stroke-width="2.6" stroke-linejoin="round" stroke-linecap="round"/>
<polyline points="110.00,101.00 106.70,96.70" fill="none" stroke="#cc2222" stroke-width="2.4" stroke-linejoin="round" stroke-linecap="round"/>
<polyline points="121.00,101.40 120.50,105.00" fill="none" stroke="#4d4d4d" stroke-width="2.6" stroke-linejoin="round" stroke-linecap="round"/>
<polyline points="120.50,105.00 119.80,111.00" fill="none" stroke="#2233cc" stroke-width="2.6" stroke-linejoin="round" stroke-linecap="round"/>
<polyline points="119.80,111.00 118.80,115.50" fill="none" stroke="#4d4d4d" stroke-width="2.6" stroke-linejoin="round" stroke-linecap="round"/>
<polyline points="118.80,115.50 115.50,117.50" fill="none" stroke="#cc5555" stroke-width="1.6" stroke-linejoin="round" stroke-linecap="round"/>
<polyline points="118.80,115.50 118.60,119.30 122.10,126.40 130.50,126.40 134.00,133.60 141.20,133.60" fill="none" stroke="#4d4d4d" stroke-width="2.6" stroke-linejoin="round" stroke-linecap="round"/>
<polyline points="122.10,126.40 120.50,129.00" fill="none" stroke="#4d4d4d" stroke-width="2.6" stroke-linejoin="round" stroke-linecap="round"/>
<polyline points="120.50,129.00 117.50,134.00" fill="none" stroke="#2233cc" stroke-width="2.6" stroke-linejoin="round" stroke-linecap="round"/>
<polyline points="117.50,134.00 113.80,139.50 106.70,143.10 102.00,140.00" fill="none" stroke="#4d4d4d" stroke-width="2.6" stroke-linejoin="round" stroke-linecap="round"/>
<polyline points="102.00,140.00 98.30,137.50" fill="none" stroke="#cc2222" stroke-width="2.4" stroke-linejoin="round" stroke-linecap="round"/>
<polyline points="113.80,139.50 113.20,144.00" fill="none" stroke="#4d4d4d" stroke-width="2.6" stroke-linejoin="round" stroke-linecap="round"/>
<polyline points="113.20,144.00 112.60,148.50" fill="none" stroke="#2233cc" stroke-width="2.6" stroke-linejoin="round" stroke-linecap="round"/>
<polyline points="112.60,148.50 116.20,158.60 111.40,166.90 117.40,175.20" fill="none" stroke="#4d4d4d" stroke-width="2.6" stroke-linejoin="round" stroke-linecap="round"/>
<polyline points="116.20,158.60 121.00,159.50" fill="none" stroke="#4d4d4d" stroke-width="2.6" stroke-linejoin="round" stroke-linecap="round"/>
<polyline points="121.00,159.50 126.00,159.80" fill="none" stroke="#2233cc" stroke-width="2.6" stroke-linejoin="round" stroke-linecap="round"/>
<polyline points="126.00,159.80 131.70,155.00 136.40,155.00 146.00,158.60 148.30,162.10 141.20,164.50 138.50,161.50" fill="none" stroke="#4d4d4d" stroke-width="2.6" stroke-linejoin="round" stroke-linecap="round"/>
<polyline points="138.50,161.50 136.40,159.80 134.00,157.00" fill="none" stroke="#2233cc" stroke-width="2.6" stroke-linejoin="round" stroke-linecap="round"/>
<polyline points="131.70,155.00 129.50,152.50" fill="none" stroke="#4d4d4d" stroke-width="2.6" stroke-linejoin="round" stroke-linecap="round"/>
<polyline points="129.50,152.50 128.10,151.00" fill="none" stroke="#cc5555" stroke-width="1.6" stroke-linejoin="round" stroke-linecap="round"/>
<text x="0.00" y="45.60" font-size="11" font-weight="bold" fill="#000" text-anchor="start" >a</text>
<text x="7.30" y="135.60" font-size="8.7" font-weight="normal" fill="#000" text-anchor="middle" transform="rotate(-90 7.3 135.6)" >Peptide position</text>
<text x="22.80" y="97.20" font-size="9.4" font-weight="bold" fill="#000" text-anchor="start" >P7</text>
<line x1="37.10" y1="94.30" x2="278.60" y2="94.30" stroke="#333" stroke-width="1.1" stroke-dasharray="3.6 1.8"/>
<text x="22.80" y="127.40" font-size="9.4" font-weight="bold" fill="#000" text-anchor="start" >P5</text>
<line x1="37.10" y1="124.90" x2="252.70" y2="124.90" stroke="#333" stroke-width="1.1" stroke-dasharray="3.6 1.8"/>
<text x="22.80" y="161.70" font-size="9.4" font-weight="bold" fill="#000" text-anchor="start" >P3</text>
<line x1="37.10" y1="160.30" x2="252.70" y2="160.30" stroke="#333" stroke-width="1.1" stroke-dasharray="3.6 1.8"/>
<text x="261.60" y="45.60" font-size="11" font-weight="bold" fill="#000" text-anchor="start" >b</text>
<text x="351.50" y="26.00" font-size="9" font-weight="normal" fill="#000" text-anchor="middle" >Cavity Cross sectional Area (Å<tspan font-size="6" dy="-3">2</tspan><tspan dy="3">)</tspan></text>
<text x="286.30" y="54.20" font-size="8" font-weight="normal" fill="#000" text-anchor="end" transform="rotate(90 286.29999999999995 54.2)" fill="#111" letter-spacing="0.7">0</text>
<text x="311.30" y="54.20" font-size="8" font-weight="normal" fill="#000" text-anchor="end" transform="rotate(90 311.29999999999995 54.2)" fill="#111" letter-spacing="0.7">1000</text>
<text x="336.30" y="54.20" font-size="8" font-weight="normal" fill="#000" text-anchor="end" transform="rotate(90 336.29999999999995 54.2)" fill="#111" letter-spacing="0.7">2000</text>
<text x="361.30" y="54.20" font-size="8" font-weight="normal" fill="#000" text-anchor="end" transform="rotate(90 361.29999999999995 54.2)" fill="#111" letter-spacing="0.7">3000</text>
<text x="386.30" y="54.20" font-size="8" font-weight="normal" fill="#000" text-anchor="end" transform="rotate(90 386.29999999999995 54.2)" fill="#111" letter-spacing="0.7">4000</text>
<text x="411.30" y="54.20" font-size="8" font-weight="normal" fill="#000" text-anchor="end" transform="rotate(90 411.29999999999995 54.2)" fill="#111" letter-spacing="0.7">5000</text>
<text x="273.00" y="61.20" font-size="8" font-weight="normal" fill="#000" text-anchor="middle" transform="rotate(90 273.0 61.2)" fill="#111" letter-spacing="0.45">0</text>
<text x="273.00" y="123.55" font-size="8" font-weight="normal" fill="#000" text-anchor="middle" transform="rotate(90 273.0 123.55)" fill="#111" letter-spacing="0.45">10</text>
<text x="273.00" y="185.90" font-size="8" font-weight="normal" fill="#000" text-anchor="middle" transform="rotate(90 273.0 185.89999999999998)" fill="#111" letter-spacing="0.45">20</text>
<text x="273.00" y="248.25" font-size="8" font-weight="normal" fill="#000" text-anchor="middle" transform="rotate(90 273.0 248.25)" fill="#111" letter-spacing="0.45">30</text>
<text x="265.90" y="154.20" font-size="8.7" font-weight="normal" fill="#000" text-anchor="middle" transform="rotate(-90 265.9 154.2)" >Cavity Depth (Å)</text>
<line x1="288.90" y1="87.10" x2="294.86" y2="87.10" stroke="#9c9c9c" stroke-width="1.0" />
<line x1="288.90" y1="89.35" x2="297.30" y2="89.35" stroke="#9c9c9c" stroke-width="1.0" />
<line x1="288.90" y1="91.60" x2="299.75" y2="91.60" stroke="#9c9c9c" stroke-width="1.0" />
<line x1="288.90" y1="93.85" x2="302.19" y2="93.85" stroke="#9c9c9c" stroke-width="1.0" />
<line x1="288.90" y1="96.05" x2="305.51" y2="96.05" stroke="#9c9c9c" stroke-width="1.0" />
<line x1="289.12" y1="98.16" x2="308.91" y2="98.16" stroke="#9c9c9c" stroke-width="1.0" />
<line x1="289.99" y1="100.27" x2="312.31" y2="100.27" stroke="#9c9c9c" stroke-width="1.0" />
<line x1="291.45" y1="102.41" x2="316.34" y2="102.41" stroke="#9c9c9c" stroke-width="1.0" />
<line x1="293.55" y1="104.54" x2="321.00" y2="104.54" stroke="#9c9c9c" stroke-width="1.0" />
<line x1="295.65" y1="106.68" x2="325.33" y2="106.68" stroke="#9c9c9c" stroke-width="1.0" />
<line x1="298.35" y1="108.80" x2="330.14" y2="108.80" stroke="#9c9c9c" stroke-width="1.0" />
<line x1="301.50" y1="111.02" x2="335.51" y2="111.02" stroke="#9c9c9c" stroke-width="1.0" />
<line x1="305.27" y1="113.16" x2="341.43" y2="113.16" stroke="#9c9c9c" stroke-width="1.0" />
<line x1="309.73" y1="115.26" x2="347.94" y2="115.26" stroke="#9c9c9c" stroke-width="1.0" />
<line x1="312.56" y1="117.54" x2="352.60" y2="117.54" stroke="#9c9c9c" stroke-width="1.0" />
<line x1="314.98" y1="119.60" x2="356.65" y2="119.60" stroke="#9c9c9c" stroke-width="1.0" />
<line x1="316.67" y1="121.72" x2="360.05" y2="121.72" stroke="#9c9c9c" stroke-width="1.0" />
<line x1="320.63" y1="123.84" x2="365.70" y2="123.84" stroke="#9c9c9c" stroke-width="1.0" />
<line x1="325.32" y1="126.15" x2="372.01" y2="126.15" stroke="#9c9c9c" stroke-width="1.0" />
<line x1="328.64" y1="128.38" x2="376.67" y2="128.38" stroke="#9c9c9c" stroke-width="1.0" />
<line x1="331.96" y1="130.61" x2="381.33" y2="130.61" stroke="#9c9c9c" stroke-width="1.0" />
<line x1="335.31" y1="132.80" x2="385.99" y2="132.80" stroke="#9c9c9c" stroke-width="1.0" />
<line x1="338.67" y1="134.97" x2="390.65" y2="134.97" stroke="#9c9c9c" stroke-width="1.0" />
<line x1="342.64" y1="137.15" x2="394.02" y2="137.15" stroke="#9c9c9c" stroke-width="1.0" />
<line x1="352.67" y1="139.39" x2="403.41" y2="139.39" stroke="#9c9c9c" stroke-width="1.0" />
<line x1="350.79" y1="141.77" x2="400.85" y2="141.77" stroke="#9c9c9c" stroke-width="1.0" />
<line x1="349.91" y1="144.16" x2="396.67" y2="144.16" stroke="#9c9c9c" stroke-width="1.0" />
<line x1="348.85" y1="146.36" x2="392.30" y2="146.36" stroke="#9c9c9c" stroke-width="1.0" />
<line x1="347.65" y1="148.48" x2="387.93" y2="148.48" stroke="#9c9c9c" stroke-width="1.0" />
<line x1="346.24" y1="150.60" x2="383.64" y2="150.60" stroke="#9c9c9c" stroke-width="1.0" />
<line x1="345.47" y1="153.01" x2="380.46" y2="153.01" stroke="#9c9c9c" stroke-width="1.0" />
<line x1="344.98" y1="155.13" x2="377.85" y2="155.13" stroke="#9c9c9c" stroke-width="1.0" />
<line x1="344.48" y1="157.24" x2="375.25" y2="157.24" stroke="#9c9c9c" stroke-width="1.0" />
<line x1="344.12" y1="159.41" x2="372.72" y2="159.41" stroke="#9c9c9c" stroke-width="1.0" />
<line x1="343.68" y1="161.73" x2="370.75" y2="161.73" stroke="#9c9c9c" stroke-width="1.0" />
<line x1="343.07" y1="164.06" x2="368.90" y2="164.06" stroke="#9c9c9c" stroke-width="1.0" />
<line x1="342.46" y1="166.39" x2="367.06" y2="166.39" stroke="#9c9c9c" stroke-width="1.0" />
<line x1="341.85" y1="168.71" x2="365.21" y2="168.71" stroke="#9c9c9c" stroke-width="1.0" />
<line x1="340.74" y1="170.79" x2="362.99" y2="170.79" stroke="#9c9c9c" stroke-width="1.0" />
<line x1="339.63" y1="172.87" x2="360.77" y2="172.87" stroke="#9c9c9c" stroke-width="1.0" />
<line x1="338.53" y1="174.95" x2="358.55" y2="174.95" stroke="#9c9c9c" stroke-width="1.0" />
<line x1="337.14" y1="177.03" x2="356.87" y2="177.03" stroke="#9c9c9c" stroke-width="1.0" />
<line x1="333.90" y1="179.24" x2="353.33" y2="179.24" stroke="#9c9c9c" stroke-width="1.0" />
<line x1="329.95" y1="181.41" x2="349.10" y2="181.41" stroke="#9c9c9c" stroke-width="1.0" />
<line x1="326.04" y1="183.63" x2="344.89" y2="183.63" stroke="#9c9c9c" stroke-width="1.0" />
<line x1="322.16" y1="185.91" x2="340.70" y2="185.91" stroke="#9c9c9c" stroke-width="1.0" />
<line x1="316.58" y1="188.11" x2="334.83" y2="188.11" stroke="#9c9c9c" stroke-width="1.0" />
<line x1="315.26" y1="190.61" x2="333.01" y2="190.61" stroke="#9c9c9c" stroke-width="1.0" />
<line x1="314.64" y1="192.93" x2="331.47" y2="192.93" stroke="#9c9c9c" stroke-width="1.0" />
<line x1="314.41" y1="195.33" x2="330.28" y2="195.33" stroke="#9c9c9c" stroke-width="1.0" />
<line x1="314.74" y1="197.83" x2="329.61" y2="197.83" stroke="#9c9c9c" stroke-width="1.0" />
<line x1="314.97" y1="200.28" x2="328.86" y2="200.28" stroke="#9c9c9c" stroke-width="1.0" />
<line x1="312.60" y1="202.54" x2="325.58" y2="202.54" stroke="#9c9c9c" stroke-width="1.0" />
<line x1="310.23" y1="204.80" x2="322.31" y2="204.80" stroke="#9c9c9c" stroke-width="1.0" />
<line x1="307.36" y1="207.02" x2="318.55" y2="207.02" stroke="#9c9c9c" stroke-width="1.0" />
<line x1="303.34" y1="209.26" x2="313.63" y2="209.26" stroke="#9c9c9c" stroke-width="1.0" />
<line x1="299.76" y1="211.33" x2="309.23" y2="211.33" stroke="#9c9c9c" stroke-width="1.0" />
<line x1="296.87" y1="213.54" x2="305.45" y2="213.54" stroke="#9c9c9c" stroke-width="1.0" />
<line x1="294.05" y1="215.76" x2="301.62" y2="215.76" stroke="#9c9c9c" stroke-width="1.0" />
<line x1="292.54" y1="217.89" x2="298.89" y2="217.89" stroke="#9c9c9c" stroke-width="1.0" />
<line x1="288.90" y1="69.00" x2="290.50" y2="69.00" stroke="#e29a9a" stroke-width="1.0" />
<line x1="288.90" y1="71.45" x2="291.97" y2="71.45" stroke="#e29a9a" stroke-width="1.0" />
<line x1="288.90" y1="73.90" x2="293.43" y2="73.90" stroke="#e29a9a" stroke-width="1.0" />
<line x1="288.90" y1="76.31" x2="294.97" y2="76.31" stroke="#e29a9a" stroke-width="1.0" />
<line x1="289.07" y1="78.55" x2="296.95" y2="78.55" stroke="#e29a9a" stroke-width="1.0" />
<line x1="289.89" y1="80.67" x2="299.07" y2="80.67" stroke="#e29a9a" stroke-width="1.0" />
<line x1="291.50" y1="82.94" x2="301.66" y2="82.94" stroke="#e29a9a" stroke-width="1.0" />
<line x1="293.35" y1="85.20" x2="303.88" y2="85.20" stroke="#e29a9a" stroke-width="1.0" />
<line x1="295.19" y1="87.47" x2="306.10" y2="87.47" stroke="#e29a9a" stroke-width="1.0" />
<line x1="297.03" y1="89.74" x2="308.32" y2="89.74" stroke="#e29a9a" stroke-width="1.0" />
<line x1="300.16" y1="91.97" x2="311.83" y2="91.97" stroke="#e29a9a" stroke-width="1.0" />
<line x1="304.04" y1="94.07" x2="316.05" y2="94.07" stroke="#e29a9a" stroke-width="1.0" />
<line x1="307.91" y1="96.16" x2="320.27" y2="96.16" stroke="#e29a9a" stroke-width="1.0" />
<line x1="311.78" y1="98.26" x2="324.49" y2="98.26" stroke="#e29a9a" stroke-width="1.0" />
<line x1="315.67" y1="100.37" x2="328.63" y2="100.37" stroke="#e29a9a" stroke-width="1.0" />
<line x1="319.61" y1="102.54" x2="332.36" y2="102.54" stroke="#e29a9a" stroke-width="1.0" />
<line x1="323.56" y1="104.72" x2="336.09" y2="104.72" stroke="#e29a9a" stroke-width="1.0" />
<line x1="327.51" y1="106.89" x2="339.82" y2="106.89" stroke="#e29a9a" stroke-width="1.0" />
<line x1="331.48" y1="109.01" x2="343.58" y2="109.01" stroke="#e29a9a" stroke-width="1.0" />
<line x1="336.02" y1="111.14" x2="347.90" y2="111.14" stroke="#e29a9a" stroke-width="1.0" />
<line x1="340.49" y1="113.36" x2="352.16" y2="113.36" stroke="#e29a9a" stroke-width="1.0" />
<line x1="343.33" y1="115.41" x2="354.79" y2="115.41" stroke="#e29a9a" stroke-width="1.0" />
<line x1="346.17" y1="117.47" x2="357.42" y2="117.47" stroke="#e29a9a" stroke-width="1.0" />
<line x1="346.90" y1="119.60" x2="357.94" y2="119.60" stroke="#e29a9a" stroke-width="1.0" />
<line x1="346.78" y1="122.11" x2="357.90" y2="122.11" stroke="#e29a9a" stroke-width="1.0" />
<line x1="346.87" y1="124.54" x2="358.12" y2="124.54" stroke="#e29a9a" stroke-width="1.0" />
<line x1="348.09" y1="126.66" x2="359.46" y2="126.66" stroke="#e29a9a" stroke-width="1.0" />
<line x1="349.32" y1="128.77" x2="360.81" y2="128.77" stroke="#e29a9a" stroke-width="1.0" />
<line x1="350.51" y1="130.90" x2="362.12" y2="130.90" stroke="#e29a9a" stroke-width="1.0" />
<line x1="351.68" y1="133.05" x2="363.41" y2="133.05" stroke="#e29a9a" stroke-width="1.0" />
<line x1="352.85" y1="135.19" x2="364.70" y2="135.19" stroke="#e29a9a" stroke-width="1.0" />
<line x1="353.22" y1="137.32" x2="365.18" y2="137.32" stroke="#e29a9a" stroke-width="1.0" />
<line x1="349.46" y1="139.39" x2="363.78" y2="139.39" stroke="#e29a9a" stroke-width="1.0" />
<line x1="344.60" y1="141.46" x2="362.37" y2="141.46" stroke="#e29a9a" stroke-width="1.0" />
<line x1="338.92" y1="143.69" x2="360.40" y2="143.69" stroke="#e29a9a" stroke-width="1.0" />
<line x1="334.41" y1="145.86" x2="357.65" y2="145.86" stroke="#e29a9a" stroke-width="1.0" />
<line x1="330.27" y1="148.14" x2="355.03" y2="148.14" stroke="#e29a9a" stroke-width="1.0" />
<line x1="327.95" y1="150.38" x2="353.91" y2="150.38" stroke="#e29a9a" stroke-width="1.0" />
<line x1="327.05" y1="152.62" x2="352.79" y2="152.62" stroke="#e29a9a" stroke-width="1.0" />
<line x1="326.16" y1="154.86" x2="351.68" y2="154.86" stroke="#e29a9a" stroke-width="1.0" />
<line x1="325.52" y1="157.20" x2="350.80" y2="157.20" stroke="#e29a9a" stroke-width="1.0" />
<line x1="324.87" y1="159.55" x2="349.92" y2="159.55" stroke="#e29a9a" stroke-width="1.0" />
<line x1="324.51" y1="161.89" x2="349.04" y2="161.89" stroke="#e29a9a" stroke-width="1.0" />
<line x1="324.16" y1="164.21" x2="348.11" y2="164.21" stroke="#e29a9a" stroke-width="1.0" />
<line x1="323.77" y1="166.52" x2="347.14" y2="166.52" stroke="#e29a9a" stroke-width="1.0" />
<line x1="323.99" y1="168.83" x2="346.17" y2="168.83" stroke="#e29a9a" stroke-width="1.0" />
<line x1="325.72" y1="171.23" x2="345.49" y2="171.23" stroke="#e29a9a" stroke-width="1.0" />
<line x1="327.69" y1="173.68" x2="345.00" y2="173.68" stroke="#e29a9a" stroke-width="1.0" />
<line x1="328.26" y1="175.82" x2="343.77" y2="175.82" stroke="#e29a9a" stroke-width="1.0" />
<line x1="327.47" y1="178.11" x2="341.60" y2="178.11" stroke="#e29a9a" stroke-width="1.0" />
<line x1="326.67" y1="180.40" x2="339.43" y2="180.40" stroke="#e29a9a" stroke-width="1.0" />
<line x1="324.97" y1="182.54" x2="336.44" y2="182.54" stroke="#e29a9a" stroke-width="1.0" />
<line x1="323.21" y1="184.64" x2="333.43" y2="184.64" stroke="#e29a9a" stroke-width="1.0" />
<line x1="320.12" y1="186.85" x2="330.68" y2="186.85" stroke="#e29a9a" stroke-width="1.0" />
<line x1="316.75" y1="189.10" x2="327.98" y2="189.10" stroke="#e29a9a" stroke-width="1.0" />
<line x1="314.07" y1="191.29" x2="325.96" y2="191.29" stroke="#e29a9a" stroke-width="1.0" />
<line x1="311.57" y1="193.71" x2="324.19" y2="193.71" stroke="#e29a9a" stroke-width="1.0" />
<line x1="308.73" y1="196.14" x2="322.53" y2="196.14" stroke="#e29a9a" stroke-width="1.0" />
<line x1="305.37" y1="198.32" x2="320.69" y2="198.32" stroke="#e29a9a" stroke-width="1.0" />
<line x1="301.97" y1="200.43" x2="318.77" y2="200.43" stroke="#e29a9a" stroke-width="1.0" />
<line x1="298.56" y1="202.55" x2="316.85" y2="202.55" stroke="#e29a9a" stroke-width="1.0" />
<line x1="295.16" y1="204.66" x2="314.92" y2="204.66" stroke="#e29a9a" stroke-width="1.0" />
<line x1="292.85" y1="206.93" x2="312.03" y2="206.93" stroke="#e29a9a" stroke-width="1.0" />
<line x1="290.15" y1="209.14" x2="308.37" y2="209.14" stroke="#e29a9a" stroke-width="1.0" />
<line x1="288.90" y1="211.36" x2="304.72" y2="211.36" stroke="#e29a9a" stroke-width="1.0" />
<line x1="288.90" y1="213.69" x2="300.98" y2="213.69" stroke="#e29a9a" stroke-width="1.0" />
<line x1="288.90" y1="216.10" x2="298.58" y2="216.10" stroke="#e29a9a" stroke-width="1.0" />
<line x1="289.80" y1="73.90" x2="291.80" y2="73.90" stroke="#8fcf8f" stroke-width="1.0" />
<line x1="293.03" y1="76.14" x2="296.64" y2="76.14" stroke="#8fcf8f" stroke-width="1.0" />
<line x1="296.25" y1="78.37" x2="301.53" y2="78.37" stroke="#8fcf8f" stroke-width="1.0" />
<line x1="299.47" y1="80.60" x2="306.41" y2="80.60" stroke="#8fcf8f" stroke-width="1.0" />
<line x1="302.62" y1="82.90" x2="311.29" y2="82.90" stroke="#8fcf8f" stroke-width="1.0" />
<line x1="305.31" y1="85.06" x2="315.60" y2="85.06" stroke="#8fcf8f" stroke-width="1.0" />
<line x1="308.51" y1="87.29" x2="320.48" y2="87.29" stroke="#8fcf8f" stroke-width="1.0" />
<line x1="312.36" y1="89.44" x2="325.93" y2="89.44" stroke="#8fcf8f" stroke-width="1.0" />
<line x1="315.98" y1="91.50" x2="330.38" y2="91.50" stroke="#8fcf8f" stroke-width="1.0" />
<line x1="319.63" y1="93.68" x2="334.61" y2="93.68" stroke="#8fcf8f" stroke-width="1.0" />
<line x1="323.29" y1="95.83" x2="338.85" y2="95.83" stroke="#8fcf8f" stroke-width="1.0" />
<line x1="326.99" y1="97.94" x2="343.11" y2="97.94" stroke="#8fcf8f" stroke-width="1.0" />
<line x1="330.69" y1="100.05" x2="347.37" y2="100.05" stroke="#8fcf8f" stroke-width="1.0" />
<line x1="334.38" y1="102.16" x2="351.63" y2="102.16" stroke="#8fcf8f" stroke-width="1.0" />
<line x1="338.60" y1="104.32" x2="356.41" y2="104.32" stroke="#8fcf8f" stroke-width="1.0" />
<line x1="343.73" y1="106.40" x2="362.94" y2="106.40" stroke="#8fcf8f" stroke-width="1.0" />
<line x1="348.77" y1="108.49" x2="369.76" y2="108.49" stroke="#8fcf8f" stroke-width="1.0" />
<line x1="355.91" y1="110.55" x2="378.67" y2="110.55" stroke="#8fcf8f" stroke-width="1.0" />
<line x1="363.59" y1="112.62" x2="387.74" y2="112.62" stroke="#8fcf8f" stroke-width="1.0" />
<line x1="373.34" y1="114.76" x2="398.02" y2="114.76" stroke="#8fcf8f" stroke-width="1.0" />
<line x1="379.08" y1="116.93" x2="404.31" y2="116.93" stroke="#8fcf8f" stroke-width="1.0" />
<line x1="375.14" y1="119.02" x2="400.90" y2="119.02" stroke="#8fcf8f" stroke-width="1.0" />
<line x1="372.69" y1="121.51" x2="398.29" y2="121.51" stroke="#8fcf8f" stroke-width="1.0" />
<line x1="371.75" y1="123.83" x2="396.73" y2="123.83" stroke="#8fcf8f" stroke-width="1.0" />
<line x1="370.81" y1="126.14" x2="395.17" y2="126.14" stroke="#8fcf8f" stroke-width="1.0" />
<line x1="370.29" y1="128.57" x2="394.01" y2="128.57" stroke="#8fcf8f" stroke-width="1.0" />
<line x1="369.98" y1="131.05" x2="393.03" y2="131.05" stroke="#8fcf8f" stroke-width="1.0" />
<line x1="369.06" y1="133.24" x2="391.53" y2="133.24" stroke="#8fcf8f" stroke-width="1.0" />
<line x1="367.04" y1="135.36" x2="388.85" y2="135.36" stroke="#8fcf8f" stroke-width="1.0" />
<line x1="365.46" y1="137.46" x2="386.15" y2="137.46" stroke="#8fcf8f" stroke-width="1.0" />
<line x1="362.62" y1="139.56" x2="382.18" y2="139.56" stroke="#8fcf8f" stroke-width="1.0" />
<line x1="358.72" y1="141.74" x2="377.12" y2="141.74" stroke="#8fcf8f" stroke-width="1.0" />
<line x1="353.67" y1="143.87" x2="370.94" y2="143.87" stroke="#8fcf8f" stroke-width="1.0" />
<line x1="350.41" y1="146.03" x2="366.52" y2="146.03" stroke="#8fcf8f" stroke-width="1.0" />
<line x1="348.85" y1="148.16" x2="363.83" y2="148.16" stroke="#8fcf8f" stroke-width="1.0" />
<line x1="347.22" y1="150.28" x2="361.26" y2="150.28" stroke="#8fcf8f" stroke-width="1.0" />
<line x1="345.10" y1="152.40" x2="359.42" y2="152.40" stroke="#8fcf8f" stroke-width="1.0" />
<line x1="343.43" y1="154.79" x2="358.07" y2="154.79" stroke="#8fcf8f" stroke-width="1.0" />
<line x1="342.77" y1="157.20" x2="357.73" y2="157.20" stroke="#8fcf8f" stroke-width="1.0" />
<line x1="342.11" y1="159.61" x2="357.40" y2="159.61" stroke="#8fcf8f" stroke-width="1.0" />
<line x1="341.46" y1="162.03" x2="357.06" y2="162.03" stroke="#8fcf8f" stroke-width="1.0" />
<line x1="340.80" y1="164.44" x2="356.72" y2="164.44" stroke="#8fcf8f" stroke-width="1.0" />
<line x1="339.53" y1="166.88" x2="357.03" y2="166.88" stroke="#8fcf8f" stroke-width="1.0" />
<line x1="338.05" y1="169.34" x2="357.52" y2="169.34" stroke="#8fcf8f" stroke-width="1.0" />
<line x1="336.57" y1="171.79" x2="358.00" y2="171.79" stroke="#8fcf8f" stroke-width="1.0" />
<line x1="335.10" y1="174.24" x2="358.49" y2="174.24" stroke="#8fcf8f" stroke-width="1.0" />
<line x1="331.71" y1="176.42" x2="357.70" y2="176.42" stroke="#8fcf8f" stroke-width="1.0" />
<line x1="327.24" y1="178.81" x2="356.57" y2="178.81" stroke="#8fcf8f" stroke-width="1.0" />
<line x1="323.53" y1="181.10" x2="356.07" y2="181.10" stroke="#8fcf8f" stroke-width="1.0" />
<line x1="320.58" y1="183.31" x2="356.21" y2="183.31" stroke="#8fcf8f" stroke-width="1.0" />
<line x1="318.05" y1="185.51" x2="356.05" y2="185.51" stroke="#8fcf8f" stroke-width="1.0" />
<line x1="316.98" y1="187.76" x2="354.98" y2="187.76" stroke="#8fcf8f" stroke-width="1.0" />
<line x1="316.19" y1="190.14" x2="354.19" y2="190.14" stroke="#8fcf8f" stroke-width="1.0" />
<line x1="315.40" y1="192.51" x2="353.40" y2="192.51" stroke="#8fcf8f" stroke-width="1.0" />
<line x1="315.03" y1="194.87" x2="353.03" y2="194.87" stroke="#8fcf8f" stroke-width="1.0" />
<line x1="317.72" y1="197.18" x2="352.66" y2="197.18" stroke="#8fcf8f" stroke-width="1.0" />
<line x1="320.52" y1="199.50" x2="352.22" y2="199.50" stroke="#8fcf8f" stroke-width="1.0" />
<line x1="321.66" y1="201.70" x2="350.28" y2="201.70" stroke="#8fcf8f" stroke-width="1.0" />
<line x1="322.09" y1="203.84" x2="347.71" y2="203.84" stroke="#8fcf8f" stroke-width="1.0" />
<line x1="322.32" y1="205.99" x2="345.14" y2="205.99" stroke="#8fcf8f" stroke-width="1.0" />
<line x1="318.63" y1="208.17" x2="338.83" y2="208.17" stroke="#8fcf8f" stroke-width="1.0" />
<line x1="314.76" y1="210.22" x2="332.49" y2="210.22" stroke="#8fcf8f" stroke-width="1.0" />
<line x1="308.79" y1="212.28" x2="324.06" y2="212.28" stroke="#8fcf8f" stroke-width="1.0" />
<line x1="303.96" y1="214.38" x2="316.71" y2="214.38" stroke="#8fcf8f" stroke-width="1.0" />
<line x1="300.71" y1="216.63" x2="312.16" y2="216.63" stroke="#8fcf8f" stroke-width="1.0" />
<line x1="297.96" y1="218.99" x2="308.64" y2="218.99" stroke="#8fcf8f" stroke-width="1.0" />
<line x1="296.91" y1="221.06" x2="306.89" y2="221.06" stroke="#8fcf8f" stroke-width="1.0" />
<line x1="295.85" y1="223.13" x2="305.14" y2="223.13" stroke="#8fcf8f" stroke-width="1.0" />
<line x1="294.80" y1="225.20" x2="303.40" y2="225.20" stroke="#8fcf8f" stroke-width="1.0" />
<line x1="293.31" y1="227.55" x2="301.13" y2="227.55" stroke="#8fcf8f" stroke-width="1.0" />
<line x1="291.83" y1="229.89" x2="298.87" y2="229.89" stroke="#8fcf8f" stroke-width="1.0" />
<line x1="290.24" y1="232.16" x2="296.53" y2="232.16" stroke="#8fcf8f" stroke-width="1.0" />
<line x1="289.40" y1="83.60" x2="291.40" y2="83.60" stroke="#9c9cf6" stroke-width="1.0" />
<line x1="292.00" y1="85.89" x2="295.37" y2="85.89" stroke="#9c9cf6" stroke-width="1.0" />
<line x1="294.45" y1="88.18" x2="299.49" y2="88.18" stroke="#9c9cf6" stroke-width="1.0" />
<line x1="296.90" y1="90.47" x2="303.61" y2="90.47" stroke="#9c9cf6" stroke-width="1.0" />
<line x1="299.46" y1="92.66" x2="307.76" y2="92.66" stroke="#9c9cf6" stroke-width="1.0" />
<line x1="302.53" y1="94.92" x2="312.47" y2="94.92" stroke="#9c9cf6" stroke-width="1.0" />
<line x1="306.25" y1="97.18" x2="316.84" y2="97.18" stroke="#9c9cf6" stroke-width="1.0" />
<line x1="310.00" y1="99.44" x2="321.19" y2="99.44" stroke="#9c9cf6" stroke-width="1.0" />
<line x1="313.84" y1="101.55" x2="325.59" y2="101.55" stroke="#9c9cf6" stroke-width="1.0" />
<line x1="318.16" y1="103.80" x2="330.51" y2="103.80" stroke="#9c9cf6" stroke-width="1.0" />
<line x1="322.48" y1="106.05" x2="335.43" y2="106.05" stroke="#9c9cf6" stroke-width="1.0" />
<line x1="326.32" y1="108.16" x2="339.83" y2="108.16" stroke="#9c9cf6" stroke-width="1.0" />
<line x1="330.00" y1="110.43" x2="344.09" y2="110.43" stroke="#9c9cf6" stroke-width="1.0" />
<line x1="333.44" y1="112.71" x2="347.98" y2="112.71" stroke="#9c9cf6" stroke-width="1.0" />
<line x1="336.87" y1="114.98" x2="351.87" y2="114.98" stroke="#9c9cf6" stroke-width="1.0" />
<line x1="340.44" y1="117.08" x2="355.85" y2="117.08" stroke="#9c9cf6" stroke-width="1.0" />
<line x1="344.54" y1="119.20" x2="360.38" y2="119.20" stroke="#9c9cf6" stroke-width="1.0" />
<line x1="351.75" y1="121.37" x2="367.38" y2="121.37" stroke="#9c9cf6" stroke-width="1.0" />
<line x1="368.38" y1="123.66" x2="383.40" y2="123.66" stroke="#9c9cf6" stroke-width="1.0" />
<line x1="370.49" y1="126.07" x2="384.87" y2="126.07" stroke="#9c9cf6" stroke-width="1.0" />
<line x1="371.05" y1="128.33" x2="384.83" y2="128.33" stroke="#9c9cf6" stroke-width="1.0" />
<line x1="370.77" y1="130.75" x2="383.90" y2="130.75" stroke="#9c9cf6" stroke-width="1.0" />
<line x1="370.22" y1="133.06" x2="382.74" y2="133.06" stroke="#9c9cf6" stroke-width="1.0" />
<line x1="368.70" y1="135.47" x2="380.70" y2="135.47" stroke="#9c9cf6" stroke-width="1.0" />
<line x1="367.00" y1="137.88" x2="379.00" y2="137.88" stroke="#9c9cf6" stroke-width="1.0" />
<line x1="363.69" y1="139.98" x2="375.69" y2="139.98" stroke="#9c9cf6" stroke-width="1.0" />
<line x1="360.34" y1="142.04" x2="372.34" y2="142.04" stroke="#9c9cf6" stroke-width="1.0" />
<line x1="357.00" y1="144.12" x2="369.00" y2="144.12" stroke="#9c9cf6" stroke-width="1.0" />
<line x1="353.67" y1="146.21" x2="365.67" y2="146.21" stroke="#9c9cf6" stroke-width="1.0" />
<line x1="352.79" y1="148.43" x2="364.79" y2="148.43" stroke="#9c9cf6" stroke-width="1.0" />
<line x1="352.13" y1="150.82" x2="364.13" y2="150.82" stroke="#9c9cf6" stroke-width="1.0" />
<line x1="351.47" y1="153.20" x2="363.47" y2="153.20" stroke="#9c9cf6" stroke-width="1.0" />
<line x1="350.81" y1="155.59" x2="362.81" y2="155.59" stroke="#9c9cf6" stroke-width="1.0" />
<line x1="350.52" y1="158.03" x2="362.52" y2="158.03" stroke="#9c9cf6" stroke-width="1.0" />
<line x1="350.55" y1="160.54" x2="362.65" y2="160.54" stroke="#9c9cf6" stroke-width="1.0" />
<line x1="350.30" y1="163.04" x2="362.90" y2="163.04" stroke="#9c9cf6" stroke-width="1.0" />
<line x1="349.82" y1="165.51" x2="362.92" y2="165.51" stroke="#9c9cf6" stroke-width="1.0" />
<line x1="348.81" y1="167.89" x2="362.38" y2="167.89" stroke="#9c9cf6" stroke-width="1.0" />
<line x1="347.83" y1="170.27" x2="361.78" y2="170.27" stroke="#9c9cf6" stroke-width="1.0" />
<line x1="347.18" y1="172.65" x2="360.65" y2="172.65" stroke="#9c9cf6" stroke-width="1.0" />
<line x1="346.02" y1="174.75" x2="359.07" y2="174.75" stroke="#9c9cf6" stroke-width="1.0" />
<line x1="344.17" y1="177.02" x2="356.76" y2="177.02" stroke="#9c9cf6" stroke-width="1.0" />
<line x1="342.31" y1="179.28" x2="354.45" y2="179.28" stroke="#9c9cf6" stroke-width="1.0" />
<line x1="339.70" y1="181.41" x2="351.42" y2="181.41" stroke="#9c9cf6" stroke-width="1.0" />
<line x1="335.80" y1="183.47" x2="347.11" y2="183.47" stroke="#9c9cf6" stroke-width="1.0" />
<line x1="331.91" y1="185.55" x2="342.80" y2="185.55" stroke="#9c9cf6" stroke-width="1.0" />
<line x1="328.70" y1="187.78" x2="339.14" y2="187.78" stroke="#9c9cf6" stroke-width="1.0" />
<line x1="325.49" y1="190.02" x2="335.49" y2="190.02" stroke="#9c9cf6" stroke-width="1.0" />
<line x1="322.82" y1="192.51" x2="332.97" y2="192.51" stroke="#9c9cf6" stroke-width="1.0" />
<line x1="323.52" y1="194.89" x2="333.82" y2="194.89" stroke="#9c9cf6" stroke-width="1.0" />
<line x1="324.22" y1="197.27" x2="334.66" y2="197.27" stroke="#9c9cf6" stroke-width="1.0" />
<line x1="324.36" y1="199.60" x2="334.94" y2="199.60" stroke="#9c9cf6" stroke-width="1.0" />
<line x1="323.04" y1="201.76" x2="333.75" y2="201.76" stroke="#9c9cf6" stroke-width="1.0" />
<line x1="321.71" y1="203.92" x2="332.55" y2="203.92" stroke="#9c9cf6" stroke-width="1.0" />
<line x1="319.00" y1="206.02" x2="329.97" y2="206.02" stroke="#9c9cf6" stroke-width="1.0" />
<line x1="314.47" y1="208.27" x2="325.57" y2="208.27" stroke="#9c9cf6" stroke-width="1.0" />
<line x1="309.86" y1="210.36" x2="321.09" y2="210.36" stroke="#9c9cf6" stroke-width="1.0" />
<line x1="304.15" y1="212.41" x2="315.51" y2="212.41" stroke="#9c9cf6" stroke-width="1.0" />
<line x1="299.05" y1="214.62" x2="310.54" y2="214.62" stroke="#9c9cf6" stroke-width="1.0" />
<line x1="294.52" y1="216.88" x2="306.15" y2="216.88" stroke="#9c9cf6" stroke-width="1.0" />
<line x1="292.32" y1="219.00" x2="304.08" y2="219.00" stroke="#9c9cf6" stroke-width="1.0" />
<line x1="290.14" y1="221.12" x2="302.02" y2="221.12" stroke="#9c9cf6" stroke-width="1.0" />
<line x1="288.90" y1="223.18" x2="299.26" y2="223.18" stroke="#9c9cf6" stroke-width="1.0" />
<polyline points="291.60,87.10 295.10,94.30 302.30,101.40 311.80,107.40 321.30,112.10 329.70,115.20 335.60,119.30 339.20,122.90 345.00,124.60 354.70,131.10 364.40,137.40 374.90,138.00 367.50,144.90 359.60,150.90 354.60,158.80 350.70,168.70 344.70,177.70 335.80,182.60 330.00,186.00 324.10,188.30 321.70,194.30 321.70,200.20 314.60,206.20 305.00,211.00 297.90,215.70 294.30,219.30" fill="none" stroke="#333333" stroke-width="3.0" stroke-linejoin="round" stroke-linecap="round"/>
<polyline points="290.80,73.90 295.50,76.60 305.00,82.00 312.00,86.50 320.00,90.30 328.50,95.00 345.10,103.80 357.80,108.50 371.70,112.20 383.00,114.50 391.00,116.50 385.30,120.00 382.50,126.90 381.80,132.50 376.90,137.40 371.40,140.80 360.60,144.90 351.70,153.80 348.70,164.80 346.70,174.70 341.00,180.00 337.20,187.10 334.80,194.30 337.20,200.20 333.60,206.20 321.70,211.00 312.20,213.30 303.90,218.10 299.10,225.20 294.30,231.20 292.00,233.60" fill="none" stroke="#0a8a0a" stroke-width="2.2" stroke-linejoin="round"/>
<polyline points="290.40,83.60 302.30,91.90 316.60,100.20 330.90,107.40 345.10,115.70 351.70,119.00 360.00,121.50 368.60,122.00 374.20,121.40 378.30,126.90 376.90,132.50 372.80,138.00 365.80,142.20 358.90,146.40 355.60,156.80 355.60,164.80 352.70,173.70 346.70,180.60 337.20,185.50 327.70,191.90 330.00,199.00 326.50,205.00 317.00,209.80 307.40,213.30 300.30,216.90 295.50,221.70 292.00,224.00" fill="none" stroke="#1515f0" stroke-width="2.0" stroke-linejoin="round"/>
<polyline points="289.50,69.00 291.00,76.00 293.00,80.00 302.30,90.70 320.00,100.00 335.60,108.60 345.00,113.00 351.90,118.00 351.90,124.20 355.40,129.70 359.60,136.70 355.40,142.90 349.20,147.80 345.70,154.80 342.70,162.80 339.80,169.70 338.80,174.70 333.80,180.60 327.90,185.00 321.90,190.00 317.00,196.70 307.40,206.20 296.70,213.30 293.10,218.10" fill="none" stroke="#a00000" stroke-width="1.9" stroke-linejoin="round"/>
<line x1="291.00" y1="68.50" x2="291.30" y2="79.00" stroke="#a00000" stroke-width="3.4" />
<rect x="290.10" y="85.60" width="3.0" height="3.0" fill="#333333"/>
<rect x="291.86" y="89.21" width="3.0" height="3.0" fill="#333333"/>
<rect x="293.62" y="92.82" width="3.0" height="3.0" fill="#333333"/>
<rect x="296.48" y="95.64" width="3.0" height="3.0" fill="#333333"/>
<rect x="299.35" y="98.47" width="3.0" height="3.0" fill="#333333"/>
<rect x="302.47" y="100.96" width="3.0" height="3.0" fill="#333333"/>
<rect x="305.87" y="103.10" width="3.0" height="3.0" fill="#333333"/>
<rect x="309.27" y="105.25" width="3.0" height="3.0" fill="#333333"/>
<rect x="312.81" y="107.14" width="3.0" height="3.0" fill="#333333"/>
<rect x="316.41" y="108.92" width="3.0" height="3.0" fill="#333333"/>
<rect x="320.02" y="110.68" width="3.0" height="3.0" fill="#333333"/>
<rect x="323.79" y="112.07" width="3.0" height="3.0" fill="#333333"/>
<rect x="327.56" y="113.46" width="3.0" height="3.0" fill="#333333"/>
<rect x="330.94" y="115.61" width="3.0" height="3.0" fill="#333333"/>
<rect x="334.22" y="117.92" width="3.0" height="3.0" fill="#333333"/>
<rect x="337.07" y="120.77" width="3.0" height="3.0" fill="#333333"/>
<rect x="340.70" y="122.28" width="3.0" height="3.0" fill="#333333"/>
<rect x="344.41" y="123.71" width="3.0" height="3.0" fill="#333333"/>
<rect x="347.75" y="125.95" width="3.0" height="3.0" fill="#333333"/>
<rect x="351.09" y="128.18" width="3.0" height="3.0" fill="#333333"/>
<rect x="354.44" y="130.40" width="3.0" height="3.0" fill="#333333"/>
<rect x="357.81" y="132.59" width="3.0" height="3.0" fill="#333333"/>
<rect x="361.18" y="134.78" width="3.0" height="3.0" fill="#333333"/>
<rect x="364.86" y="136.01" width="3.0" height="3.0" fill="#333333"/>
<rect x="368.88" y="136.24" width="3.0" height="3.0" fill="#333333"/>
<rect x="372.89" y="136.47" width="3.0" height="3.0" fill="#333333"/>
<rect x="370.84" y="138.89" width="3.0" height="3.0" fill="#333333"/>
<rect x="367.90" y="141.63" width="3.0" height="3.0" fill="#333333"/>
<rect x="364.86" y="144.26" width="3.0" height="3.0" fill="#333333"/>
<rect x="361.66" y="146.69" width="3.0" height="3.0" fill="#333333"/>
<rect x="358.46" y="149.12" width="3.0" height="3.0" fill="#333333"/>
<rect x="356.19" y="152.41" width="3.0" height="3.0" fill="#333333"/>
<rect x="354.04" y="155.81" width="3.0" height="3.0" fill="#333333"/>
<rect x="352.27" y="159.40" width="3.0" height="3.0" fill="#333333"/>
<rect x="350.80" y="163.13" width="3.0" height="3.0" fill="#333333"/>
<rect x="349.33" y="166.87" width="3.0" height="3.0" fill="#333333"/>
<rect x="347.17" y="170.25" width="3.0" height="3.0" fill="#333333"/>
<rect x="344.94" y="173.60" width="3.0" height="3.0" fill="#333333"/>
<rect x="342.42" y="176.63" width="3.0" height="3.0" fill="#333333"/>
<rect x="338.90" y="178.57" width="3.0" height="3.0" fill="#333333"/>
<rect x="335.38" y="180.51" width="3.0" height="3.0" fill="#333333"/>
<rect x="331.90" y="182.51" width="3.0" height="3.0" fill="#333333"/>
<rect x="328.42" y="184.53" width="3.0" height="3.0" fill="#333333"/>
<rect x="324.68" y="185.99" width="3.0" height="3.0" fill="#333333"/>
<rect x="321.94" y="188.46" width="3.0" height="3.0" fill="#333333"/>
<rect x="320.44" y="192.19" width="3.0" height="3.0" fill="#333333"/>
<rect x="320.20" y="196.16" width="3.0" height="3.0" fill="#333333"/>
<rect x="319.07" y="199.66" width="3.0" height="3.0" fill="#333333"/>
<rect x="316.00" y="202.25" width="3.0" height="3.0" fill="#333333"/>
<rect x="312.90" y="204.80" width="3.0" height="3.0" fill="#333333"/>
<rect x="309.30" y="206.60" width="3.0" height="3.0" fill="#333333"/>
<rect x="305.71" y="208.40" width="3.0" height="3.0" fill="#333333"/>
<rect x="302.21" y="210.36" width="3.0" height="3.0" fill="#333333"/>
<rect x="298.86" y="212.57" width="3.0" height="3.0" fill="#333333"/>
<rect x="295.64" y="214.96" width="3.0" height="3.0" fill="#333333"/>
<rect x="292.80" y="217.80" width="3.0" height="3.0" fill="#333333"/>
<rect x="289.30" y="72.40" width="3.0" height="3.0" fill="#0a8a0a"/>
<rect x="292.78" y="74.40" width="3.0" height="3.0" fill="#0a8a0a"/>
<rect x="296.27" y="76.39" width="3.0" height="3.0" fill="#0a8a0a"/>
<rect x="299.76" y="78.38" width="3.0" height="3.0" fill="#0a8a0a"/>
<rect x="303.25" y="80.36" width="3.0" height="3.0" fill="#0a8a0a"/>
<rect x="306.64" y="82.52" width="3.0" height="3.0" fill="#0a8a0a"/>
<rect x="310.02" y="84.69" width="3.0" height="3.0" fill="#0a8a0a"/>
<rect x="313.61" y="86.48" width="3.0" height="3.0" fill="#0a8a0a"/>
<rect x="317.24" y="88.20" width="3.0" height="3.0" fill="#0a8a0a"/>
<rect x="320.79" y="90.07" width="3.0" height="3.0" fill="#0a8a0a"/>
<rect x="324.31" y="92.01" width="3.0" height="3.0" fill="#0a8a0a"/>
<rect x="327.83" y="93.94" width="3.0" height="3.0" fill="#0a8a0a"/>
<rect x="331.38" y="95.82" width="3.0" height="3.0" fill="#0a8a0a"/>
<rect x="334.93" y="97.70" width="3.0" height="3.0" fill="#0a8a0a"/>
<rect x="338.47" y="99.58" width="3.0" height="3.0" fill="#0a8a0a"/>
<rect x="342.02" y="101.46" width="3.0" height="3.0" fill="#0a8a0a"/>
<rect x="345.69" y="103.07" width="3.0" height="3.0" fill="#0a8a0a"/>
<rect x="349.46" y="104.47" width="3.0" height="3.0" fill="#0a8a0a"/>
<rect x="353.22" y="105.86" width="3.0" height="3.0" fill="#0a8a0a"/>
<rect x="357.01" y="107.19" width="3.0" height="3.0" fill="#0a8a0a"/>
<rect x="360.89" y="108.22" width="3.0" height="3.0" fill="#0a8a0a"/>
<rect x="364.77" y="109.26" width="3.0" height="3.0" fill="#0a8a0a"/>
<rect x="368.65" y="110.29" width="3.0" height="3.0" fill="#0a8a0a"/>
<rect x="372.57" y="111.18" width="3.0" height="3.0" fill="#0a8a0a"/>
<rect x="376.50" y="111.98" width="3.0" height="3.0" fill="#0a8a0a"/>
<rect x="380.44" y="112.78" width="3.0" height="3.0" fill="#0a8a0a"/>
<rect x="384.35" y="113.71" width="3.0" height="3.0" fill="#0a8a0a"/>
<rect x="388.24" y="114.69" width="3.0" height="3.0" fill="#0a8a0a"/>
<rect x="387.18" y="116.42" width="3.0" height="3.0" fill="#0a8a0a"/>
<rect x="383.78" y="118.54" width="3.0" height="3.0" fill="#0a8a0a"/>
<rect x="382.27" y="122.26" width="3.0" height="3.0" fill="#0a8a0a"/>
<rect x="380.92" y="126.03" width="3.0" height="3.0" fill="#0a8a0a"/>
<rect x="380.42" y="130.01" width="3.0" height="3.0" fill="#0a8a0a"/>
<rect x="378.16" y="133.14" width="3.0" height="3.0" fill="#0a8a0a"/>
<rect x="375.31" y="135.96" width="3.0" height="3.0" fill="#0a8a0a"/>
<rect x="371.89" y="138.07" width="3.0" height="3.0" fill="#0a8a0a"/>
<rect x="368.34" y="139.89" width="3.0" height="3.0" fill="#0a8a0a"/>
<rect x="364.58" y="141.32" width="3.0" height="3.0" fill="#0a8a0a"/>
<rect x="360.83" y="142.74" width="3.0" height="3.0" fill="#0a8a0a"/>
<rect x="357.57" y="144.93" width="3.0" height="3.0" fill="#0a8a0a"/>
<rect x="354.73" y="147.77" width="3.0" height="3.0" fill="#0a8a0a"/>
<rect x="351.89" y="150.61" width="3.0" height="3.0" fill="#0a8a0a"/>
<rect x="349.77" y="153.87" width="3.0" height="3.0" fill="#0a8a0a"/>
<rect x="348.71" y="157.75" width="3.0" height="3.0" fill="#0a8a0a"/>
<rect x="347.66" y="161.62" width="3.0" height="3.0" fill="#0a8a0a"/>
<rect x="346.75" y="165.53" width="3.0" height="3.0" fill="#0a8a0a"/>
<rect x="345.95" y="169.47" width="3.0" height="3.0" fill="#0a8a0a"/>
<rect x="345.05" y="173.34" width="3.0" height="3.0" fill="#0a8a0a"/>
<rect x="342.10" y="176.08" width="3.0" height="3.0" fill="#0a8a0a"/>
<rect x="339.28" y="178.91" width="3.0" height="3.0" fill="#0a8a0a"/>
<rect x="337.39" y="182.45" width="3.0" height="3.0" fill="#0a8a0a"/>
<rect x="335.56" y="186.02" width="3.0" height="3.0" fill="#0a8a0a"/>
<rect x="334.29" y="189.83" width="3.0" height="3.0" fill="#0a8a0a"/>
<rect x="333.63" y="193.62" width="3.0" height="3.0" fill="#0a8a0a"/>
<rect x="335.15" y="197.34" width="3.0" height="3.0" fill="#0a8a0a"/>
<rect x="334.39" y="200.88" width="3.0" height="3.0" fill="#0a8a0a"/>
<rect x="332.32" y="204.33" width="3.0" height="3.0" fill="#0a8a0a"/>
<rect x="328.78" y="206.04" width="3.0" height="3.0" fill="#0a8a0a"/>
<rect x="325.06" y="207.54" width="3.0" height="3.0" fill="#0a8a0a"/>
<rect x="321.33" y="209.04" width="3.0" height="3.0" fill="#0a8a0a"/>
<rect x="317.48" y="210.16" width="3.0" height="3.0" fill="#0a8a0a"/>
<rect x="313.58" y="211.10" width="3.0" height="3.0" fill="#0a8a0a"/>
<rect x="309.79" y="212.33" width="3.0" height="3.0" fill="#0a8a0a"/>
<rect x="306.31" y="214.34" width="3.0" height="3.0" fill="#0a8a0a"/>
<rect x="302.83" y="216.35" width="3.0" height="3.0" fill="#0a8a0a"/>
<rect x="300.43" y="219.51" width="3.0" height="3.0" fill="#0a8a0a"/>
<rect x="298.18" y="222.84" width="3.0" height="3.0" fill="#0a8a0a"/>
<rect x="295.74" y="226.02" width="3.0" height="3.0" fill="#0a8a0a"/>
<rect x="293.23" y="229.16" width="3.0" height="3.0" fill="#0a8a0a"/>
<rect x="290.50" y="232.10" width="3.0" height="3.0" fill="#0a8a0a"/>
<rect x="289.10" y="82.30" width="2.6" height="2.6" fill="#1515f0"/>
<rect x="292.43" y="84.62" width="2.6" height="2.6" fill="#1515f0"/>
<rect x="295.75" y="86.94" width="2.6" height="2.6" fill="#1515f0"/>
<rect x="299.08" y="89.26" width="2.6" height="2.6" fill="#1515f0"/>
<rect x="302.48" y="91.46" width="2.6" height="2.6" fill="#1515f0"/>
<rect x="305.99" y="93.49" width="2.6" height="2.6" fill="#1515f0"/>
<rect x="309.49" y="95.53" width="2.6" height="2.6" fill="#1515f0"/>
<rect x="313.00" y="97.57" width="2.6" height="2.6" fill="#1515f0"/>
<rect x="316.55" y="99.53" width="2.6" height="2.6" fill="#1515f0"/>
<rect x="320.17" y="101.35" width="2.6" height="2.6" fill="#1515f0"/>
<rect x="323.79" y="103.18" width="2.6" height="2.6" fill="#1515f0"/>
<rect x="327.41" y="105.00" width="2.6" height="2.6" fill="#1515f0"/>
<rect x="330.99" y="106.91" width="2.6" height="2.6" fill="#1515f0"/>
<rect x="334.49" y="108.96" width="2.6" height="2.6" fill="#1515f0"/>
<rect x="337.99" y="111.00" width="2.6" height="2.6" fill="#1515f0"/>
<rect x="341.49" y="113.05" width="2.6" height="2.6" fill="#1515f0"/>
<rect x="345.03" y="115.02" width="2.6" height="2.6" fill="#1515f0"/>
<rect x="348.66" y="116.83" width="2.6" height="2.6" fill="#1515f0"/>
<rect x="352.42" y="118.31" width="2.6" height="2.6" fill="#1515f0"/>
<rect x="356.30" y="119.48" width="2.6" height="2.6" fill="#1515f0"/>
<rect x="360.25" y="120.29" width="2.6" height="2.6" fill="#1515f0"/>
<rect x="364.30" y="120.53" width="2.6" height="2.6" fill="#1515f0"/>
<rect x="368.34" y="120.59" width="2.6" height="2.6" fill="#1515f0"/>
<rect x="372.37" y="120.16" width="2.6" height="2.6" fill="#1515f0"/>
<rect x="375.01" y="122.92" width="2.6" height="2.6" fill="#1515f0"/>
<rect x="376.83" y="126.30" width="2.6" height="2.6" fill="#1515f0"/>
<rect x="375.84" y="130.23" width="2.6" height="2.6" fill="#1515f0"/>
<rect x="373.77" y="133.65" width="2.6" height="2.6" fill="#1515f0"/>
<rect x="371.28" y="136.83" width="2.6" height="2.6" fill="#1515f0"/>
<rect x="367.81" y="138.92" width="2.6" height="2.6" fill="#1515f0"/>
<rect x="364.33" y="141.00" width="2.6" height="2.6" fill="#1515f0"/>
<rect x="360.87" y="143.11" width="2.6" height="2.6" fill="#1515f0"/>
<rect x="357.53" y="145.32" width="2.6" height="2.6" fill="#1515f0"/>
<rect x="356.30" y="149.18" width="2.6" height="2.6" fill="#1515f0"/>
<rect x="355.08" y="153.05" width="2.6" height="2.6" fill="#1515f0"/>
<rect x="354.30" y="156.98" width="2.6" height="2.6" fill="#1515f0"/>
<rect x="354.30" y="161.04" width="2.6" height="2.6" fill="#1515f0"/>
<rect x="353.81" y="165.01" width="2.6" height="2.6" fill="#1515f0"/>
<rect x="352.55" y="168.87" width="2.6" height="2.6" fill="#1515f0"/>
<rect x="351.18" y="172.66" width="2.6" height="2.6" fill="#1515f0"/>
<rect x="348.51" y="175.72" width="2.6" height="2.6" fill="#1515f0"/>
<rect x="345.85" y="178.78" width="2.6" height="2.6" fill="#1515f0"/>
<rect x="342.41" y="180.84" width="2.6" height="2.6" fill="#1515f0"/>
<rect x="338.81" y="182.70" width="2.6" height="2.6" fill="#1515f0"/>
<rect x="335.25" y="184.64" width="2.6" height="2.6" fill="#1515f0"/>
<rect x="331.89" y="186.90" width="2.6" height="2.6" fill="#1515f0"/>
<rect x="328.52" y="189.17" width="2.6" height="2.6" fill="#1515f0"/>
<rect x="326.86" y="192.02" width="2.6" height="2.6" fill="#1515f0"/>
<rect x="328.11" y="195.88" width="2.6" height="2.6" fill="#1515f0"/>
<rect x="327.62" y="199.55" width="2.6" height="2.6" fill="#1515f0"/>
<rect x="325.58" y="203.05" width="2.6" height="2.6" fill="#1515f0"/>
<rect x="322.25" y="205.19" width="2.6" height="2.6" fill="#1515f0"/>
<rect x="318.63" y="207.02" width="2.6" height="2.6" fill="#1515f0"/>
<rect x="314.98" y="208.76" width="2.6" height="2.6" fill="#1515f0"/>
<rect x="311.17" y="210.15" width="2.6" height="2.6" fill="#1515f0"/>
<rect x="307.36" y="211.54" width="2.6" height="2.6" fill="#1515f0"/>
<rect x="303.68" y="213.23" width="2.6" height="2.6" fill="#1515f0"/>
<rect x="300.06" y="215.06" width="2.6" height="2.6" fill="#1515f0"/>
<rect x="296.97" y="217.63" width="2.6" height="2.6" fill="#1515f0"/>
<rect x="294.09" y="220.47" width="2.6" height="2.6" fill="#1515f0"/>
<rect x="290.70" y="222.70" width="2.6" height="2.6" fill="#1515f0"/>
<rect x="288.40" y="67.90" width="2.2" height="2.2" fill="#a00000"/>
<rect x="289.25" y="71.87" width="2.2" height="2.2" fill="#a00000"/>
<rect x="290.33" y="75.77" width="2.2" height="2.2" fill="#a00000"/>
<rect x="292.27" y="79.32" width="2.2" height="2.2" fill="#a00000"/>
<rect x="294.93" y="82.39" width="2.2" height="2.2" fill="#a00000"/>
<rect x="297.60" y="85.46" width="2.2" height="2.2" fill="#a00000"/>
<rect x="300.26" y="88.52" width="2.2" height="2.2" fill="#a00000"/>
<rect x="303.53" y="90.83" width="2.2" height="2.2" fill="#a00000"/>
<rect x="307.13" y="92.72" width="2.2" height="2.2" fill="#a00000"/>
<rect x="310.73" y="94.61" width="2.2" height="2.2" fill="#a00000"/>
<rect x="314.32" y="96.50" width="2.2" height="2.2" fill="#a00000"/>
<rect x="317.92" y="98.39" width="2.2" height="2.2" fill="#a00000"/>
<rect x="321.49" y="100.33" width="2.2" height="2.2" fill="#a00000"/>
<rect x="325.05" y="102.29" width="2.2" height="2.2" fill="#a00000"/>
<rect x="328.61" y="104.25" width="2.2" height="2.2" fill="#a00000"/>
<rect x="332.17" y="106.21" width="2.2" height="2.2" fill="#a00000"/>
<rect x="335.77" y="108.09" width="2.2" height="2.2" fill="#a00000"/>
<rect x="339.45" y="109.82" width="2.2" height="2.2" fill="#a00000"/>
<rect x="343.13" y="111.54" width="2.2" height="2.2" fill="#a00000"/>
<rect x="346.50" y="113.78" width="2.2" height="2.2" fill="#a00000"/>
<rect x="349.79" y="116.17" width="2.2" height="2.2" fill="#a00000"/>
<rect x="350.80" y="119.72" width="2.2" height="2.2" fill="#a00000"/>
<rect x="351.16" y="123.67" width="2.2" height="2.2" fill="#a00000"/>
<rect x="353.35" y="127.10" width="2.2" height="2.2" fill="#a00000"/>
<rect x="355.48" y="130.56" width="2.2" height="2.2" fill="#a00000"/>
<rect x="357.57" y="134.04" width="2.2" height="2.2" fill="#a00000"/>
<rect x="357.24" y="137.46" width="2.2" height="2.2" fill="#a00000"/>
<rect x="354.96" y="140.83" width="2.2" height="2.2" fill="#a00000"/>
<rect x="352.03" y="143.59" width="2.2" height="2.2" fill="#a00000"/>
<rect x="348.85" y="146.11" width="2.2" height="2.2" fill="#a00000"/>
<rect x="346.71" y="149.48" width="2.2" height="2.2" fill="#a00000"/>
<rect x="344.89" y="153.12" width="2.2" height="2.2" fill="#a00000"/>
<rect x="343.40" y="156.89" width="2.2" height="2.2" fill="#a00000"/>
<rect x="341.98" y="160.70" width="2.2" height="2.2" fill="#a00000"/>
<rect x="340.44" y="164.46" width="2.2" height="2.2" fill="#a00000"/>
<rect x="338.87" y="168.21" width="2.2" height="2.2" fill="#a00000"/>
<rect x="337.99" y="172.17" width="2.2" height="2.2" fill="#a00000"/>
<rect x="336.02" y="175.58" width="2.2" height="2.2" fill="#a00000"/>
<rect x="333.39" y="178.68" width="2.2" height="2.2" fill="#a00000"/>
<rect x="330.30" y="181.29" width="2.2" height="2.2" fill="#a00000"/>
<rect x="327.04" y="183.72" width="2.2" height="2.2" fill="#a00000"/>
<rect x="323.91" y="186.31" width="2.2" height="2.2" fill="#a00000"/>
<rect x="320.79" y="188.91" width="2.2" height="2.2" fill="#a00000"/>
<rect x="318.39" y="192.19" width="2.2" height="2.2" fill="#a00000"/>
<rect x="315.99" y="195.47" width="2.2" height="2.2" fill="#a00000"/>
<rect x="313.13" y="198.35" width="2.2" height="2.2" fill="#a00000"/>
<rect x="310.24" y="201.20" width="2.2" height="2.2" fill="#a00000"/>
<rect x="307.35" y="204.06" width="2.2" height="2.2" fill="#a00000"/>
<rect x="304.14" y="206.53" width="2.2" height="2.2" fill="#a00000"/>
<rect x="300.76" y="208.78" width="2.2" height="2.2" fill="#a00000"/>
<rect x="297.37" y="211.02" width="2.2" height="2.2" fill="#a00000"/>
<rect x="294.44" y="213.75" width="2.2" height="2.2" fill="#a00000"/>
<rect x="292.00" y="217.00" width="2.2" height="2.2" fill="#a00000"/>
<line x1="284.50" y1="61.00" x2="414.40" y2="61.00" stroke="#000" stroke-width="1.3" />
<line x1="288.90" y1="55.90" x2="288.90" y2="248.40" stroke="#000" stroke-width="1.3" />
<line x1="288.90" y1="61.00" x2="288.90" y2="55.90" stroke="#000" stroke-width="1.3" />
<line x1="313.90" y1="61.00" x2="313.90" y2="55.90" stroke="#000" stroke-width="1.3" />
<line x1="338.90" y1="61.00" x2="338.90" y2="55.90" stroke="#000" stroke-width="1.3" />
<line x1="363.90" y1="61.00" x2="363.90" y2="55.90" stroke="#000" stroke-width="1.3" />
<line x1="388.90" y1="61.00" x2="388.90" y2="55.90" stroke="#000" stroke-width="1.3" />
<line x1="413.90" y1="61.00" x2="413.90" y2="55.90" stroke="#000" stroke-width="1.3" />
<line x1="284.30" y1="61.00" x2="288.90" y2="61.00" stroke="#000" stroke-width="1.2" />
<line x1="286.60" y1="67.23" x2="288.90" y2="67.23" stroke="#000" stroke-width="1.2" />
<line x1="286.60" y1="73.47" x2="288.90" y2="73.47" stroke="#000" stroke-width="1.2" />
<line x1="286.60" y1="79.70" x2="288.90" y2="79.70" stroke="#000" stroke-width="1.2" />
<line x1="286.60" y1="85.94" x2="288.90" y2="85.94" stroke="#000" stroke-width="1.2" />
<line x1="286.60" y1="92.17" x2="288.90" y2="92.17" stroke="#000" stroke-width="1.2" />
<line x1="286.60" y1="98.41" x2="288.90" y2="98.41" stroke="#000" stroke-width="1.2" />
<line x1="286.60" y1="104.65" x2="288.90" y2="104.65" stroke="#000" stroke-width="1.2" />
<line x1="286.60" y1="110.88" x2="288.90" y2="110.88" stroke="#000" stroke-width="1.2" />
<line x1="286.60" y1="117.12" x2="288.90" y2="117.12" stroke="#000" stroke-width="1.2" />
<line x1="284.30" y1="123.35" x2="288.90" y2="123.35" stroke="#000" stroke-width="1.2" />
<line x1="286.60" y1="129.59" x2="288.90" y2="129.59" stroke="#000" stroke-width="1.2" />
<line x1="286.60" y1="135.82" x2="288.90" y2="135.82" stroke="#000" stroke-width="1.2" />
<line x1="286.60" y1="142.06" x2="288.90" y2="142.06" stroke="#000" stroke-width="1.2" />
<line x1="286.60" y1="148.29" x2="288.90" y2="148.29" stroke="#000" stroke-width="1.2" />
<line x1="286.60" y1="154.53" x2="288.90" y2="154.53" stroke="#000" stroke-width="1.2" />
<line x1="286.60" y1="160.76" x2="288.90" y2="160.76" stroke="#000" stroke-width="1.2" />
<line x1="286.60" y1="167.00" x2="288.90" y2="167.00" stroke="#000" stroke-width="1.2" />
<line x1="286.60" y1="173.23" x2="288.90" y2="173.23" stroke="#000" stroke-width="1.2" />
<line x1="286.60" y1="179.47" x2="288.90" y2="179.47" stroke="#000" stroke-width="1.2" />
<line x1="284.30" y1="185.70" x2="288.90" y2="185.70" stroke="#000" stroke-width="1.2" />
<line x1="286.60" y1="191.94" x2="288.90" y2="191.94" stroke="#000" stroke-width="1.2" />
<line x1="286.60" y1="198.17" x2="288.90" y2="198.17" stroke="#000" stroke-width="1.2" />
<line x1="286.60" y1="204.41" x2="288.90" y2="204.41" stroke="#000" stroke-width="1.2" />
<line x1="286.60" y1="210.64" x2="288.90" y2="210.64" stroke="#000" stroke-width="1.2" />
<line x1="286.60" y1="216.88" x2="288.90" y2="216.88" stroke="#000" stroke-width="1.2" />
<line x1="286.60" y1="223.11" x2="288.90" y2="223.11" stroke="#000" stroke-width="1.2" />
<line x1="286.60" y1="229.34" x2="288.90" y2="229.34" stroke="#000" stroke-width="1.2" />
<line x1="286.60" y1="235.58" x2="288.90" y2="235.58" stroke="#000" stroke-width="1.2" />
<line x1="286.60" y1="241.81" x2="288.90" y2="241.81" stroke="#000" stroke-width="1.2" />
<line x1="284.30" y1="248.05" x2="288.90" y2="248.05" stroke="#000" stroke-width="1.2" />
<path d="M394.8,124.8 H412.8 Q414.7,124.8 414.7,126.8 V171.5" fill="none" stroke="#333" stroke-width="1.3" stroke-dasharray="3.8 2.4"/>
<polygon points="412.40,171.20 417.00,171.20 414.70,176.20" fill="#333" stroke="none" stroke-width="0" />
<text x="364.50" y="212.90" font-size="8.8" font-weight="bold" fill="#111" text-anchor="start" >WT<tspan fill="#111">:</tspan>WT</text>
<text x="364.50" y="223.50" font-size="8.8" font-weight="bold" fill="#1f8c1f" text-anchor="start" >Csel2<tspan fill="#111">:</tspan>Y7L</text>
<text x="364.50" y="234.00" font-size="8.8" font-weight="bold" fill="#1a1aee" text-anchor="start" >Cdyn<tspan fill="#111">:</tspan>V3Y</text>
<text x="364.50" y="244.50" font-size="8.8" font-weight="bold" fill="#c41a1a" text-anchor="start" >Csedy<tspan fill="#111">:</tspan>V3Y-Y7L</text>
<text x="436.70" y="45.60" font-size="11" font-weight="bold" fill="#000" text-anchor="start" >c</text>
<polygon points="436.29,162.32 549.89,216.86 646.99,153.04 533.38,98.51" fill="#f3f3f3" stroke="none" stroke-width="0" />
<polygon points="436.29,162.32 533.38,98.51 533.38,5.77 436.29,69.59" fill="#f3f3f3" stroke="none" stroke-width="0" />
<polygon points="533.38,98.51 646.99,153.04 646.99,60.31 533.38,5.77" fill="#f3f3f3" stroke="none" stroke-width="0" />
<polyline points="447.82,167.85 544.91,104.04 544.91,11.31" fill="none" stroke="#cfcfcf" stroke-width="0.75" />
<polyline points="462.49,174.90 559.59,111.09 559.59,18.36" fill="none" stroke="#cfcfcf" stroke-width="0.75" />
<polyline points="477.17,181.95 574.26,118.13 574.26,25.40" fill="none" stroke="#cfcfcf" stroke-width="0.75" />
<polyline points="491.85,188.99 588.94,125.18 588.94,32.45" fill="none" stroke="#cfcfcf" stroke-width="0.75" />
<polyline points="506.53,196.04 603.62,132.22 603.62,39.49" fill="none" stroke="#cfcfcf" stroke-width="0.75" />
<polyline points="521.21,203.09 618.30,139.27 618.30,46.54" fill="none" stroke="#cfcfcf" stroke-width="0.75" />
<polyline points="535.88,210.13 632.98,146.32 632.98,53.59" fill="none" stroke="#cfcfcf" stroke-width="0.75" />
<polyline points="556.22,212.70 442.61,158.16 442.61,65.43" fill="none" stroke="#cfcfcf" stroke-width="0.75" />
<polyline points="567.20,205.48 453.60,150.94 453.60,58.21" fill="none" stroke="#cfcfcf" stroke-width="0.75" />
<polyline points="578.19,198.26 464.58,143.72 464.58,50.99" fill="none" stroke="#cfcfcf" stroke-width="0.75" />
<polyline points="589.17,191.04 475.56,136.51 475.56,43.77" fill="none" stroke="#cfcfcf" stroke-width="0.75" />
<polyline points="600.15,183.82 486.55,129.29 486.55,36.56" fill="none" stroke="#cfcfcf" stroke-width="0.75" />
<polyline points="611.14,176.61 497.53,122.07 497.53,29.34" fill="none" stroke="#cfcfcf" stroke-width="0.75" />
<polyline points="622.12,169.39 508.51,114.85 508.51,22.12" fill="none" stroke="#cfcfcf" stroke-width="0.75" />
<polyline points="633.10,162.17 519.50,107.63 519.50,14.90" fill="none" stroke="#cfcfcf" stroke-width="0.75" />
<polyline points="644.09,154.95 530.48,100.41 530.48,7.68" fill="none" stroke="#cfcfcf" stroke-width="0.75" />
<polyline points="436.29,160.48 533.38,96.67 646.99,151.21" fill="none" stroke="#cfcfcf" stroke-width="0.75" />
<polyline points="436.29,150.02 533.38,86.21 646.99,140.74" fill="none" stroke="#cfcfcf" stroke-width="0.75" />
<polyline points="436.29,139.56 533.38,75.75 646.99,130.28" fill="none" stroke="#cfcfcf" stroke-width="0.75" />
<polyline points="436.29,129.10 533.38,65.28 646.99,119.82" fill="none" stroke="#cfcfcf" stroke-width="0.75" />
<polyline points="436.29,118.64 533.38,54.82 646.99,109.36" fill="none" stroke="#cfcfcf" stroke-width="0.75" />
<polyline points="436.29,108.17 533.38,44.36 646.99,98.90" fill="none" stroke="#cfcfcf" stroke-width="0.75" />
<polyline points="436.29,97.71 533.38,33.90 646.99,88.44" fill="none" stroke="#cfcfcf" stroke-width="0.75" />
<polyline points="436.29,87.25 533.38,23.44 646.99,77.98" fill="none" stroke="#cfcfcf" stroke-width="0.75" />
<polyline points="436.29,76.79 533.38,12.98 646.99,67.51" fill="none" stroke="#cfcfcf" stroke-width="0.75" />
<polyline points="436.29,162.32 549.89,216.86" fill="none" stroke="#3a3a3a" stroke-width="0.8" />
<polyline points="549.89,216.86 646.99,153.04" fill="none" stroke="#3a3a3a" stroke-width="0.8" />
<polyline points="646.99,153.04 646.99,60.31" fill="none" stroke="#3a3a3a" stroke-width="0.8" />
<polyline points="448.82,167.20 445.98,169.06" fill="none" stroke="#3a3a3a" stroke-width="0.7" />
<polyline points="463.50,174.24 460.66,176.11" fill="none" stroke="#3a3a3a" stroke-width="0.7" />
<polyline points="478.17,181.29 475.33,183.15" fill="none" stroke="#3a3a3a" stroke-width="0.7" />
<polyline points="492.85,188.33 490.01,190.20" fill="none" stroke="#3a3a3a" stroke-width="0.7" />
<polyline points="507.53,195.38 504.69,197.25" fill="none" stroke="#3a3a3a" stroke-width="0.7" />
<polyline points="522.21,202.43 519.37,204.29" fill="none" stroke="#3a3a3a" stroke-width="0.7" />
<polyline points="536.89,209.47 534.05,211.34" fill="none" stroke="#3a3a3a" stroke-width="0.7" />
<polyline points="555.14,212.18 558.20,213.65" fill="none" stroke="#3a3a3a" stroke-width="0.7" />
<polyline points="566.12,204.96 569.19,206.43" fill="none" stroke="#3a3a3a" stroke-width="0.7" />
<polyline points="577.11,197.74 580.17,199.21" fill="none" stroke="#3a3a3a" stroke-width="0.7" />
<polyline points="588.09,190.52 591.15,191.99" fill="none" stroke="#3a3a3a" stroke-width="0.7" />
<polyline points="599.07,183.30 602.14,184.78" fill="none" stroke="#3a3a3a" stroke-width="0.7" />
<polyline points="610.06,176.09 613.12,177.56" fill="none" stroke="#3a3a3a" stroke-width="0.7" />
<polyline points="621.04,168.87 624.10,170.34" fill="none" stroke="#3a3a3a" stroke-width="0.7" />
<polyline points="632.02,161.65 635.09,163.12" fill="none" stroke="#3a3a3a" stroke-width="0.7" />
<polyline points="645.91,150.69 648.97,152.16" fill="none" stroke="#3a3a3a" stroke-width="0.7" />
<polyline points="645.91,140.23 648.97,141.70" fill="none" stroke="#3a3a3a" stroke-width="0.7" />
<polyline points="645.91,129.76 648.97,131.24" fill="none" stroke="#3a3a3a" stroke-width="0.7" />
<polyline points="645.91,119.30 648.97,120.77" fill="none" stroke="#3a3a3a" stroke-width="0.7" />
<polyline points="645.91,108.84 648.97,110.31" fill="none" stroke="#3a3a3a" stroke-width="0.7" />
<polyline points="645.91,98.38 648.97,99.85" fill="none" stroke="#3a3a3a" stroke-width="0.7" />
<polyline points="645.91,87.92 648.97,89.39" fill="none" stroke="#3a3a3a" stroke-width="0.7" />
<polyline points="645.91,77.46 648.97,78.93" fill="none" stroke="#3a3a3a" stroke-width="0.7" />
<polyline points="645.91,66.99 648.97,68.47" fill="none" stroke="#3a3a3a" stroke-width="0.7" />
<text x="441.50" y="183.90" font-size="7.6" font-weight="normal" fill="#333" text-anchor="middle" >2200</text>
<text x="456.20" y="190.60" font-size="7.6" font-weight="normal" fill="#333" text-anchor="middle" >2400</text>
<text x="470.90" y="197.50" font-size="7.6" font-weight="normal" fill="#333" text-anchor="middle" >2600</text>
<text x="485.60" y="204.30" font-size="7.6" font-weight="normal" fill="#333" text-anchor="middle" >2800</text>
<text x="500.30" y="211.10" font-size="7.6" font-weight="normal" fill="#333" text-anchor="middle" >3000</text>
<text x="515.00" y="217.90" font-size="7.6" font-weight="normal" fill="#333" text-anchor="middle" >3200</text>
<text x="529.60" y="224.70" font-size="7.6" font-weight="normal" fill="#333" text-anchor="middle" >3400</text>
<text x="564.10" y="227.40" font-size="7.6" font-weight="normal" fill="#333" text-anchor="middle" >−7.5</text>
<text x="575.80" y="220.10" font-size="7.6" font-weight="normal" fill="#333" text-anchor="middle" >−5.0</text>
<text x="586.90" y="212.50" font-size="7.6" font-weight="normal" fill="#333" text-anchor="middle" >−2.5</text>
<text x="598.00" y="205.00" font-size="7.6" font-weight="normal" fill="#333" text-anchor="middle" >0.0</text>
<text x="609.00" y="197.70" font-size="7.6" font-weight="normal" fill="#333" text-anchor="middle" >2.5</text>
<text x="620.00" y="190.50" font-size="7.6" font-weight="normal" fill="#333" text-anchor="middle" >5.0</text>
<text x="631.00" y="183.40" font-size="7.6" font-weight="normal" fill="#333" text-anchor="middle" >7.5</text>
<text x="642.40" y="176.20" font-size="7.6" font-weight="normal" fill="#333" text-anchor="middle" >10.0</text>
<text x="653.80" y="157.01" font-size="7.6" font-weight="normal" fill="#333" text-anchor="start" >0.00</text>
<text x="653.80" y="146.39" font-size="7.6" font-weight="normal" fill="#333" text-anchor="start" >0.25</text>
<text x="653.80" y="135.78" font-size="7.6" font-weight="normal" fill="#333" text-anchor="start" >0.50</text>
<text x="653.80" y="125.17" font-size="7.6" font-weight="normal" fill="#333" text-anchor="start" >0.75</text>
<text x="653.80" y="114.56" font-size="7.6" font-weight="normal" fill="#333" text-anchor="start" >1.00</text>
<text x="653.80" y="103.95" font-size="7.6" font-weight="normal" fill="#333" text-anchor="start" >1.25</text>
<text x="653.80" y="93.34" font-size="7.6" font-weight="normal" fill="#333" text-anchor="start" >1.50</text>
<text x="653.80" y="82.73" font-size="7.6" font-weight="normal" fill="#333" text-anchor="start" >1.75</text>
<text x="653.80" y="72.11" font-size="7.6" font-weight="normal" fill="#333" text-anchor="start" >2.00</text>
<text x="0.00" y="0.00" font-size="9" font-weight="normal" fill="#000" text-anchor="start" transform="translate(402.6,185.2) rotate(26.3)">Cavity Cross-sectional Area at P5 (Å<tspan font-size="6" dy="-3">2</tspan><tspan dy="3">)</tspan></text>
<text x="0.00" y="0.00" font-size="9" font-weight="normal" fill="#000" text-anchor="start" transform="translate(580.5,236.5) rotate(-31.2)">MD Peptide PCA (a.u.)</text>
<text x="684.20" y="117.30" font-size="10.2" font-weight="normal" fill="#000" text-anchor="middle" transform="rotate(-90 684.2 117.3)" >Potency (Δlog(EC<tspan font-size="7" dy="2">50</tspan><tspan dy="-2">))</tspan></text>
<polygon points="531.10,109.40 536.40,111.40 536.70,21.30 531.10,19.10" fill="#e6bf00" stroke="#1a1a00" stroke-width="0.5" />
<polygon points="536.40,111.40 541.90,108.90 541.40,18.80 536.70,21.30" fill="#6b5800" stroke="#1a1a00" stroke-width="0.5" />
<polygon points="531.10,19.10 536.70,21.30 541.40,18.80 536.00,16.40" fill="#c9a400" stroke="#1a1a00" stroke-width="0.5" />
<polygon points="569.50,178.80 574.90,181.70 575.10,105.10 569.20,102.70" fill="#e3df00" stroke="#1a1a00" stroke-width="0.5" />
<polygon points="574.90,181.70 579.60,178.50 579.80,102.40 575.10,105.10" fill="#6e6a00" stroke="#1a1a00" stroke-width="0.5" />
<polygon points="569.20,102.70 575.10,105.10 579.80,102.40 574.30,99.80" fill="#c8c400" stroke="#1a1a00" stroke-width="0.5" />
<polygon points="555.50,203.20 560.50,205.60 559.90,195.50 555.10,192.90" fill="#a8127a" stroke="#200010" stroke-width="0.5" />
<polygon points="560.50,205.60 564.30,203.20 564.00,192.50 559.90,195.50" fill="#5c0a44" stroke="#200010" stroke-width="0.5" />
<polygon points="555.10,192.90 559.90,195.50 564.00,192.50 559.30,190.50" fill="#8a0f65" stroke="#200010" stroke-width="0.5" />
<polygon points="490.20,182.20 494.90,179.40 501.00,181.90 496.50,184.60" fill="#0b0a5a" stroke="#000020" stroke-width="0.5" />
<text x="460.00" y="14.30" font-size="9" font-weight="bold" fill="#c41a1a" text-anchor="start" >Csedy<tspan fill="#111">:</tspan>V3Y-Y7L</text>
<text x="583.60" y="99.30" font-size="9" font-weight="bold" fill="#1a1aee" text-anchor="start" >Cdyn<tspan fill="#111">:</tspan>V3Y</text>
<text x="467.50" y="175.40" font-size="9" font-weight="bold" fill="#111" text-anchor="start" >WT<tspan fill="#111">:</tspan>WT</text>
<text x="517.20" y="185.00" font-size="8.8" font-weight="bold" fill="#1f8c1f" text-anchor="start" >Csel2<tspan fill="#111">:</tspan>Y7L</text>
<defs><linearGradient id="plasma" x1="0" x2="1" y1="0" y2="0">
<stop offset="0" stop-color="#0d0887"/><stop offset="0.1" stop-color="#41049d"/><stop offset="0.2" stop-color="#6a00a8"/>
<stop offset="0.3" stop-color="#8f0da4"/><stop offset="0.4" stop-color="#b12a90"/><stop offset="0.5" stop-color="#cc4778"/>
<stop offset="0.6" stop-color="#e16462"/><stop offset="0.7" stop-color="#f2844b"/><stop offset="0.8" stop-color="#fca636"/>
<stop offset="0.9" stop-color="#fcce25"/><stop offset="1" stop-color="#f0f921"/></linearGradient></defs>
<rect x="592.3" y="-1" width="90.4" height="8.4" fill="url(#plasma)" stroke="#000" stroke-width="0.9"/>
<line x1="616.30" y1="0.00" x2="616.30" y2="1.40" stroke="#000" stroke-width="0.8" />
<line x1="616.30" y1="6.20" x2="616.30" y2="7.60" stroke="#000" stroke-width="0.8" />
<line x1="639.80" y1="0.00" x2="639.80" y2="1.40" stroke="#000" stroke-width="0.8" />
<line x1="639.80" y1="6.20" x2="639.80" y2="7.60" stroke="#000" stroke-width="0.8" />
<line x1="663.40" y1="0.00" x2="663.40" y2="1.40" stroke="#000" stroke-width="0.8" />
<line x1="663.40" y1="6.20" x2="663.40" y2="7.60" stroke="#000" stroke-width="0.8" />
<text x="594.20" y="10.50" font-size="4.4" font-weight="normal" fill="#555" text-anchor="start" transform="rotate(90 594.2 10.5)" >0.06</text>
<text x="617.90" y="10.50" font-size="4.4" font-weight="normal" fill="#555" text-anchor="start" transform="rotate(90 617.9 10.5)" >0.13</text>
<text x="641.40" y="10.50" font-size="4.4" font-weight="normal" fill="#555" text-anchor="start" transform="rotate(90 641.4 10.5)" >0.25</text>
<text x="665.00" y="10.50" font-size="4.4" font-weight="normal" fill="#555" text-anchor="start" transform="rotate(90 665.0 10.5)" >0.50</text>
<text x="638.50" y="28.60" font-size="9.2" font-weight="normal" fill="#111" text-anchor="middle" >Max Activity (%WT)</text>
</svg>
</body></html>
